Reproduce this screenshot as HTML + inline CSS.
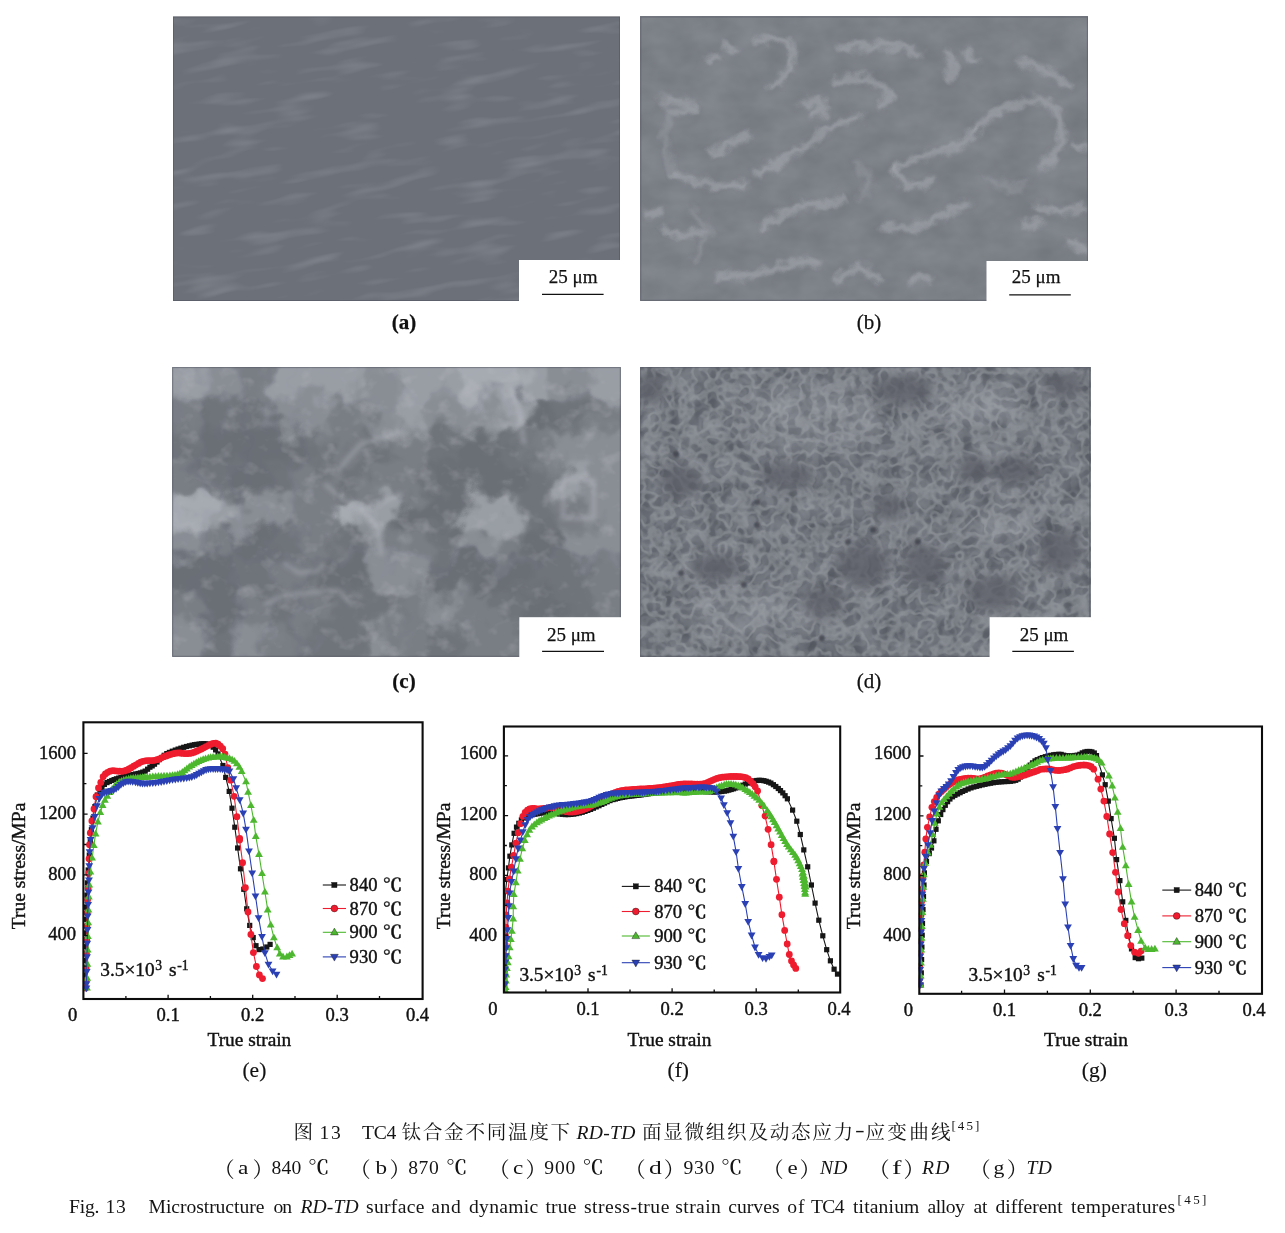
<!DOCTYPE html>
<html lang="zh"><head><meta charset="utf-8"><title>图 13</title>
<style>
html,body{margin:0;padding:0;background:#fff;}
body{width:1285px;height:1233px;position:relative;overflow:hidden;font-family:"Liberation Serif","Noto Serif CJK SC",serif;color:#111;}
svg{position:absolute;left:0;top:0;}
svg text{font-family:"Liberation Serif","Noto Serif CJK SC",serif;}
.dc{font-family:"Liberation Serif","Noto Serif CJK SC",serif;font-weight:600;}
.fp{font-family:"Liberation Serif","Noto Serif CJK SC",serif;}
</style></head><body>
<svg width="1285" height="1233" viewBox="0 0 1285 1233">
<defs>
<filter id="nA" x="0" y="0" width="100%" height="100%" color-interpolation-filters="sRGB"><feTurbulence type="fractalNoise" baseFrequency="0.018 0.09" numOctaves="2" seed="3"/><feColorMatrix values="0 0 0 0 0.584  0 0 0 0 0.604  0 0 0 0 0.635  1.2 0 0 0 -0.636"/></filter>
<filter id="nB" x="0" y="0" width="100%" height="100%" color-interpolation-filters="sRGB"><feTurbulence type="fractalNoise" baseFrequency="0.03 0.045" numOctaves="3" seed="8"/><feColorMatrix values="0.08 0 0 0 0.446  0.08 0 0 0 0.462  0.08 0 0 0 0.489  0 0 0 0 1"/></filter>
<filter id="tC" x="0" y="0" width="100%" height="100%" color-interpolation-filters="sRGB"><feTurbulence type="fractalNoise" baseFrequency="0.05 0.06" numOctaves="3" seed="21"/><feColorMatrix values="0 0 0 0 0.761  0 0 0 0 0.773  0 0 0 0 0.792  0.9 0 0 0 -0.495"/></filter>
<filter id="nD" x="0" y="0" width="100%" height="100%" color-interpolation-filters="sRGB"><feTurbulence type="fractalNoise" baseFrequency="0.05 0.05" numOctaves="2" seed="5"/><feColorMatrix values="0.2 0 0 0 0.296  0.2 0 0 0 0.312  0.2 0 0 0 0.343  0 0 0 0 1"/></filter>
<filter id="netD" x="0" y="0" width="100%" height="100%" color-interpolation-filters="sRGB"><feTurbulence type="fractalNoise" baseFrequency="0.075 0.075" numOctaves="2" seed="11"/><feColorMatrix values="0 0 0 0 0.702  0 0 0 0 0.718  0 0 0 0 0.737  1 0 0 0 0"/><feComponentTransfer><feFuncA type="table" tableValues="0.000 0.000 0.000 0.000 0.000 0.000 0.000 0.048 0.224 0.320 0.320 0.224 0.048 0.000 0.000 0.000 0.000 0.000 0.000 0.000 0.000"/></feComponentTransfer></filter>
<filter id="netD2" x="0" y="0" width="100%" height="100%" color-interpolation-filters="sRGB"><feTurbulence type="fractalNoise" baseFrequency="0.11 0.11" numOctaves="1" seed="7"/><feColorMatrix values="0 0 0 0 0.663  0 0 0 0 0.678  0 0 0 0 0.702  1 0 0 0 0"/><feComponentTransfer><feFuncA type="table" tableValues="0.000 0.000 0.000 0.000 0.000 0.000 0.000 0.027 0.126 0.180 0.180 0.126 0.027 0.000 0.000 0.000 0.000 0.000 0.000 0.000 0.000"/></feComponentTransfer></filter>
<filter id="wobC" x="-10%" y="-10%" width="120%" height="120%" color-interpolation-filters="sRGB"><feTurbulence type="fractalNoise" baseFrequency="0.035" numOctaves="3" seed="9" result="n"/><feGaussianBlur in="SourceGraphic" stdDeviation="5" result="b"/><feDisplacementMap in="b" in2="n" scale="55" xChannelSelector="R" yChannelSelector="G"/></filter>
<filter id="wob" x="-10%" y="-10%" width="120%" height="120%" color-interpolation-filters="sRGB"><feTurbulence type="fractalNoise" baseFrequency="0.08" numOctaves="2" seed="4" result="n"/><feGaussianBlur in="SourceGraphic" stdDeviation="2.2" result="b"/><feDisplacementMap in="b" in2="n" scale="14" xChannelSelector="R" yChannelSelector="G"/></filter>
<filter id="bl1" x="-20%" y="-20%" width="140%" height="140%"><feGaussianBlur stdDeviation="1"/></filter><filter id="bl2" x="-20%" y="-20%" width="140%" height="140%"><feGaussianBlur stdDeviation="2"/></filter><filter id="bl3" x="-20%" y="-20%" width="140%" height="140%"><feGaussianBlur stdDeviation="3"/></filter><filter id="bl5" x="-20%" y="-20%" width="140%" height="140%"><feGaussianBlur stdDeviation="5"/></filter><filter id="bl7" x="-20%" y="-20%" width="140%" height="140%"><feGaussianBlur stdDeviation="7"/></filter><filter id="bl9" x="-20%" y="-20%" width="140%" height="140%"><feGaussianBlur stdDeviation="8"/></filter><clipPath id="cpa"><rect x="173" y="16.5" width="447" height="284.5"/></clipPath><clipPath id="cpb"><rect x="640.3" y="16.5" width="447.6" height="284.3"/></clipPath><clipPath id="cpc"><rect x="172.2" y="367.1" width="448.6" height="289.7"/></clipPath><clipPath id="cpd"><rect x="640.2" y="367.1" width="450" height="289.7"/></clipPath></defs>
<rect x="173" y="16.5" width="447" height="284.5" fill="#6c7078"/><g clip-path="url(#cpa)"><rect x="113" y="-43.5" width="567" height="404.5" filter="url(#nA)" transform="rotate(-9 396 159)"/></g><rect x="173.5" y="17.0" width="446" height="283.5" fill="none" stroke="#50545e" stroke-opacity="0.55" stroke-width="1"/><rect x="519" y="260" width="102.0" height="42.0" fill="#fff"/>
<rect x="640.3" y="16.5" width="447.6" height="284.3" fill="#7c8087"/><rect x="640.3" y="16.5" width="447.6" height="284.3" filter="url(#nB)"/><g clip-path="url(#cpb)"><g filter="url(#wob)" fill="none" stroke="#a6aab0" stroke-opacity="0.6" stroke-width="7.5" stroke-linejoin="round" stroke-linecap="round"><path d="M759 40 L779 39 L793 47 L790 68 L779 82 L769 86"/><path d="M724 44 L734 51"/><path d="M706 61 L717 58"/><path d="M839 49 L867 46 L898 47 L919 53"/><path d="M835 82 L849 77 L867 79 L884 87 L891 98 L881 105"/><path d="M804 103 L821 100 L825 110 L811 114"/><path d="M710 154 L731 143 L748 135"/><path d="M759 173 L779 162 L800 150 L821 135 L842 121 L860 117"/><path d="M675 175 L699 183 L727 187 L745 183"/><path d="M668 100 L692 103 L696 110 L675 112"/><path d="M975 131 L989 117 L1010 107 L1030 100 L1048 101 L1058 114 L1062 135 L1055 155 L1041 169"/><path d="M895 169 L908 162 L926 155 L943 150 L964 145 L975 131"/><path d="M895 169 L901 182 L919 187 L933 180"/><path d="M884 225 L905 230 L929 222 L950 211 L968 204"/><path d="M762 229 L779 215 L797 206 L821 204 L842 201"/><path d="M664 229 L682 236 L703 232"/><path d="M647 215 L661 211"/><path d="M720 277 L752 274 L779 267 L804 262 L818 262"/><path d="M835 281 L849 271 L867 267 L877 281"/><path d="M1034 206 L1058 211 L1083 209"/><path d="M1024 225 L1041 222"/><path d="M947 54 L954 68 L947 79"/><path d="M968 51 L975 61"/><path d="M1020 61 L1041 68 L1058 79 L1069 86"/><path d="M1069 243 L1086 250"/><path d="M1076 145 L1086 147"/><path d="M912 281 L929 277"/></g><g filter="url(#wob)" fill="none" stroke="#a8acb2" stroke-opacity="0.3" stroke-width="7" stroke-linejoin="round" stroke-linecap="round"><path d="M661 96 L671 114 L664 135 L668 155 L675 175"/><path d="M692 211 L710 232 L696 260"/><path d="M989 180 L1010 190 L1024 183"/><path d="M856 162 L870 180 L863 197"/></g></g><rect x="640.8" y="17.0" width="446.6" height="283.3" fill="none" stroke="#50545e" stroke-opacity="0.55" stroke-width="1"/><rect x="986.5" y="261" width="102.4" height="40.8" fill="#fff"/>
<rect x="172.2" y="367.1" width="448.6" height="289.7" fill="#7b7f88"/><g clip-path="url(#cpc)"><g filter="url(#wobC)"><rect x="108.1" y="302.7" width="32.6" height="32.8" fill="#999da4"/><rect x="140.2" y="302.7" width="32.6" height="32.8" fill="#999da4"/><rect x="172.2" y="302.7" width="32.6" height="32.8" fill="#999da4"/><rect x="204.2" y="302.7" width="32.6" height="32.8" fill="#898d94"/><rect x="236.3" y="302.7" width="32.6" height="32.8" fill="#797d84"/><rect x="268.3" y="302.7" width="32.6" height="32.8" fill="#999da4"/><rect x="300.4" y="302.7" width="32.6" height="32.8" fill="#999da4"/><rect x="332.4" y="302.7" width="32.6" height="32.8" fill="#999da4"/><rect x="364.5" y="302.7" width="32.6" height="32.8" fill="#898d94"/><rect x="396.5" y="302.7" width="32.6" height="32.8" fill="#999da4"/><rect x="428.5" y="302.7" width="32.6" height="32.8" fill="#999da4"/><rect x="460.6" y="302.7" width="32.6" height="32.8" fill="#a6aab1"/><rect x="492.6" y="302.7" width="32.6" height="32.8" fill="#a6aab1"/><rect x="524.7" y="302.7" width="32.6" height="32.8" fill="#999da4"/><rect x="556.7" y="302.7" width="32.6" height="32.8" fill="#898d94"/><rect x="588.8" y="302.7" width="32.6" height="32.8" fill="#999da4"/><rect x="620.8" y="302.7" width="32.6" height="32.8" fill="#999da4"/><rect x="652.8" y="302.7" width="32.6" height="32.8" fill="#999da4"/><rect x="108.1" y="334.9" width="32.6" height="32.8" fill="#999da4"/><rect x="140.2" y="334.9" width="32.6" height="32.8" fill="#999da4"/><rect x="172.2" y="334.9" width="32.6" height="32.8" fill="#999da4"/><rect x="204.2" y="334.9" width="32.6" height="32.8" fill="#898d94"/><rect x="236.3" y="334.9" width="32.6" height="32.8" fill="#797d84"/><rect x="268.3" y="334.9" width="32.6" height="32.8" fill="#999da4"/><rect x="300.4" y="334.9" width="32.6" height="32.8" fill="#999da4"/><rect x="332.4" y="334.9" width="32.6" height="32.8" fill="#999da4"/><rect x="364.5" y="334.9" width="32.6" height="32.8" fill="#898d94"/><rect x="396.5" y="334.9" width="32.6" height="32.8" fill="#999da4"/><rect x="428.5" y="334.9" width="32.6" height="32.8" fill="#999da4"/><rect x="460.6" y="334.9" width="32.6" height="32.8" fill="#a6aab1"/><rect x="492.6" y="334.9" width="32.6" height="32.8" fill="#a6aab1"/><rect x="524.7" y="334.9" width="32.6" height="32.8" fill="#999da4"/><rect x="556.7" y="334.9" width="32.6" height="32.8" fill="#898d94"/><rect x="588.8" y="334.9" width="32.6" height="32.8" fill="#999da4"/><rect x="620.8" y="334.9" width="32.6" height="32.8" fill="#999da4"/><rect x="652.8" y="334.9" width="32.6" height="32.8" fill="#999da4"/><rect x="108.1" y="367.1" width="32.6" height="32.8" fill="#999da4"/><rect x="140.2" y="367.1" width="32.6" height="32.8" fill="#999da4"/><rect x="172.2" y="367.1" width="32.6" height="32.8" fill="#999da4"/><rect x="204.2" y="367.1" width="32.6" height="32.8" fill="#898d94"/><rect x="236.3" y="367.1" width="32.6" height="32.8" fill="#797d84"/><rect x="268.3" y="367.1" width="32.6" height="32.8" fill="#999da4"/><rect x="300.4" y="367.1" width="32.6" height="32.8" fill="#999da4"/><rect x="332.4" y="367.1" width="32.6" height="32.8" fill="#999da4"/><rect x="364.5" y="367.1" width="32.6" height="32.8" fill="#898d94"/><rect x="396.5" y="367.1" width="32.6" height="32.8" fill="#999da4"/><rect x="428.5" y="367.1" width="32.6" height="32.8" fill="#999da4"/><rect x="460.6" y="367.1" width="32.6" height="32.8" fill="#a6aab1"/><rect x="492.6" y="367.1" width="32.6" height="32.8" fill="#a6aab1"/><rect x="524.7" y="367.1" width="32.6" height="32.8" fill="#999da4"/><rect x="556.7" y="367.1" width="32.6" height="32.8" fill="#898d94"/><rect x="588.8" y="367.1" width="32.6" height="32.8" fill="#999da4"/><rect x="620.8" y="367.1" width="32.6" height="32.8" fill="#999da4"/><rect x="652.8" y="367.1" width="32.6" height="32.8" fill="#999da4"/><rect x="108.1" y="399.3" width="32.6" height="32.8" fill="#797d84"/><rect x="140.2" y="399.3" width="32.6" height="32.8" fill="#797d84"/><rect x="172.2" y="399.3" width="32.6" height="32.8" fill="#797d84"/><rect x="204.2" y="399.3" width="32.6" height="32.8" fill="#6f737a"/><rect x="236.3" y="399.3" width="32.6" height="32.8" fill="#6f737a"/><rect x="268.3" y="399.3" width="32.6" height="32.8" fill="#898d94"/><rect x="300.4" y="399.3" width="32.6" height="32.8" fill="#898d94"/><rect x="332.4" y="399.3" width="32.6" height="32.8" fill="#797d84"/><rect x="364.5" y="399.3" width="32.6" height="32.8" fill="#898d94"/><rect x="396.5" y="399.3" width="32.6" height="32.8" fill="#999da4"/><rect x="428.5" y="399.3" width="32.6" height="32.8" fill="#898d94"/><rect x="460.6" y="399.3" width="32.6" height="32.8" fill="#898d94"/><rect x="492.6" y="399.3" width="32.6" height="32.8" fill="#999da4"/><rect x="524.7" y="399.3" width="32.6" height="32.8" fill="#6a6e75"/><rect x="556.7" y="399.3" width="32.6" height="32.8" fill="#6f737a"/><rect x="588.8" y="399.3" width="32.6" height="32.8" fill="#797d84"/><rect x="620.8" y="399.3" width="32.6" height="32.8" fill="#797d84"/><rect x="652.8" y="399.3" width="32.6" height="32.8" fill="#797d84"/><rect x="108.1" y="431.5" width="32.6" height="32.8" fill="#6f737a"/><rect x="140.2" y="431.5" width="32.6" height="32.8" fill="#6f737a"/><rect x="172.2" y="431.5" width="32.6" height="32.8" fill="#6f737a"/><rect x="204.2" y="431.5" width="32.6" height="32.8" fill="#6a6e75"/><rect x="236.3" y="431.5" width="32.6" height="32.8" fill="#6a6e75"/><rect x="268.3" y="431.5" width="32.6" height="32.8" fill="#6a6e75"/><rect x="300.4" y="431.5" width="32.6" height="32.8" fill="#6f737a"/><rect x="332.4" y="431.5" width="32.6" height="32.8" fill="#797d84"/><rect x="364.5" y="431.5" width="32.6" height="32.8" fill="#6f737a"/><rect x="396.5" y="431.5" width="32.6" height="32.8" fill="#797d84"/><rect x="428.5" y="431.5" width="32.6" height="32.8" fill="#6f737a"/><rect x="460.6" y="431.5" width="32.6" height="32.8" fill="#6a6e75"/><rect x="492.6" y="431.5" width="32.6" height="32.8" fill="#6f737a"/><rect x="524.7" y="431.5" width="32.6" height="32.8" fill="#797d84"/><rect x="556.7" y="431.5" width="32.6" height="32.8" fill="#898d94"/><rect x="588.8" y="431.5" width="32.6" height="32.8" fill="#898d94"/><rect x="620.8" y="431.5" width="32.6" height="32.8" fill="#898d94"/><rect x="652.8" y="431.5" width="32.6" height="32.8" fill="#898d94"/><rect x="108.1" y="463.7" width="32.6" height="32.8" fill="#797d84"/><rect x="140.2" y="463.7" width="32.6" height="32.8" fill="#797d84"/><rect x="172.2" y="463.7" width="32.6" height="32.8" fill="#797d84"/><rect x="204.2" y="463.7" width="32.6" height="32.8" fill="#6f737a"/><rect x="236.3" y="463.7" width="32.6" height="32.8" fill="#6a6e75"/><rect x="268.3" y="463.7" width="32.6" height="32.8" fill="#6f737a"/><rect x="300.4" y="463.7" width="32.6" height="32.8" fill="#797d84"/><rect x="332.4" y="463.7" width="32.6" height="32.8" fill="#6f737a"/><rect x="364.5" y="463.7" width="32.6" height="32.8" fill="#797d84"/><rect x="396.5" y="463.7" width="32.6" height="32.8" fill="#797d84"/><rect x="428.5" y="463.7" width="32.6" height="32.8" fill="#6a6e75"/><rect x="460.6" y="463.7" width="32.6" height="32.8" fill="#6a6e75"/><rect x="492.6" y="463.7" width="32.6" height="32.8" fill="#6a6e75"/><rect x="524.7" y="463.7" width="32.6" height="32.8" fill="#6f737a"/><rect x="556.7" y="463.7" width="32.6" height="32.8" fill="#999da4"/><rect x="588.8" y="463.7" width="32.6" height="32.8" fill="#898d94"/><rect x="620.8" y="463.7" width="32.6" height="32.8" fill="#898d94"/><rect x="652.8" y="463.7" width="32.6" height="32.8" fill="#898d94"/><rect x="108.1" y="495.9" width="32.6" height="32.8" fill="#a6aab1"/><rect x="140.2" y="495.9" width="32.6" height="32.8" fill="#a6aab1"/><rect x="172.2" y="495.9" width="32.6" height="32.8" fill="#a6aab1"/><rect x="204.2" y="495.9" width="32.6" height="32.8" fill="#999da4"/><rect x="236.3" y="495.9" width="32.6" height="32.8" fill="#898d94"/><rect x="268.3" y="495.9" width="32.6" height="32.8" fill="#898d94"/><rect x="300.4" y="495.9" width="32.6" height="32.8" fill="#797d84"/><rect x="332.4" y="495.9" width="32.6" height="32.8" fill="#a6aab1"/><rect x="364.5" y="495.9" width="32.6" height="32.8" fill="#999da4"/><rect x="396.5" y="495.9" width="32.6" height="32.8" fill="#6a6e75"/><rect x="428.5" y="495.9" width="32.6" height="32.8" fill="#6a6e75"/><rect x="460.6" y="495.9" width="32.6" height="32.8" fill="#999da4"/><rect x="492.6" y="495.9" width="32.6" height="32.8" fill="#999da4"/><rect x="524.7" y="495.9" width="32.6" height="32.8" fill="#6f737a"/><rect x="556.7" y="495.9" width="32.6" height="32.8" fill="#797d84"/><rect x="588.8" y="495.9" width="32.6" height="32.8" fill="#898d94"/><rect x="620.8" y="495.9" width="32.6" height="32.8" fill="#898d94"/><rect x="652.8" y="495.9" width="32.6" height="32.8" fill="#898d94"/><rect x="108.1" y="528.0" width="32.6" height="32.8" fill="#898d94"/><rect x="140.2" y="528.0" width="32.6" height="32.8" fill="#898d94"/><rect x="172.2" y="528.0" width="32.6" height="32.8" fill="#898d94"/><rect x="204.2" y="528.0" width="32.6" height="32.8" fill="#797d84"/><rect x="236.3" y="528.0" width="32.6" height="32.8" fill="#6a6e75"/><rect x="268.3" y="528.0" width="32.6" height="32.8" fill="#6f737a"/><rect x="300.4" y="528.0" width="32.6" height="32.8" fill="#797d84"/><rect x="332.4" y="528.0" width="32.6" height="32.8" fill="#6f737a"/><rect x="364.5" y="528.0" width="32.6" height="32.8" fill="#898d94"/><rect x="396.5" y="528.0" width="32.6" height="32.8" fill="#797d84"/><rect x="428.5" y="528.0" width="32.6" height="32.8" fill="#6f737a"/><rect x="460.6" y="528.0" width="32.6" height="32.8" fill="#898d94"/><rect x="492.6" y="528.0" width="32.6" height="32.8" fill="#797d84"/><rect x="524.7" y="528.0" width="32.6" height="32.8" fill="#6a6e75"/><rect x="556.7" y="528.0" width="32.6" height="32.8" fill="#898d94"/><rect x="588.8" y="528.0" width="32.6" height="32.8" fill="#898d94"/><rect x="620.8" y="528.0" width="32.6" height="32.8" fill="#898d94"/><rect x="652.8" y="528.0" width="32.6" height="32.8" fill="#898d94"/><rect x="108.1" y="560.2" width="32.6" height="32.8" fill="#6a6e75"/><rect x="140.2" y="560.2" width="32.6" height="32.8" fill="#6a6e75"/><rect x="172.2" y="560.2" width="32.6" height="32.8" fill="#6a6e75"/><rect x="204.2" y="560.2" width="32.6" height="32.8" fill="#6a6e75"/><rect x="236.3" y="560.2" width="32.6" height="32.8" fill="#6f737a"/><rect x="268.3" y="560.2" width="32.6" height="32.8" fill="#797d84"/><rect x="300.4" y="560.2" width="32.6" height="32.8" fill="#6f737a"/><rect x="332.4" y="560.2" width="32.6" height="32.8" fill="#6a6e75"/><rect x="364.5" y="560.2" width="32.6" height="32.8" fill="#898d94"/><rect x="396.5" y="560.2" width="32.6" height="32.8" fill="#898d94"/><rect x="428.5" y="560.2" width="32.6" height="32.8" fill="#6a6e75"/><rect x="460.6" y="560.2" width="32.6" height="32.8" fill="#6a6e75"/><rect x="492.6" y="560.2" width="32.6" height="32.8" fill="#6a6e75"/><rect x="524.7" y="560.2" width="32.6" height="32.8" fill="#6f737a"/><rect x="556.7" y="560.2" width="32.6" height="32.8" fill="#6f737a"/><rect x="588.8" y="560.2" width="32.6" height="32.8" fill="#797d84"/><rect x="620.8" y="560.2" width="32.6" height="32.8" fill="#797d84"/><rect x="652.8" y="560.2" width="32.6" height="32.8" fill="#797d84"/><rect x="108.1" y="592.4" width="32.6" height="32.8" fill="#797d84"/><rect x="140.2" y="592.4" width="32.6" height="32.8" fill="#797d84"/><rect x="172.2" y="592.4" width="32.6" height="32.8" fill="#797d84"/><rect x="204.2" y="592.4" width="32.6" height="32.8" fill="#6a6e75"/><rect x="236.3" y="592.4" width="32.6" height="32.8" fill="#797d84"/><rect x="268.3" y="592.4" width="32.6" height="32.8" fill="#6f737a"/><rect x="300.4" y="592.4" width="32.6" height="32.8" fill="#797d84"/><rect x="332.4" y="592.4" width="32.6" height="32.8" fill="#6f737a"/><rect x="364.5" y="592.4" width="32.6" height="32.8" fill="#6f737a"/><rect x="396.5" y="592.4" width="32.6" height="32.8" fill="#797d84"/><rect x="428.5" y="592.4" width="32.6" height="32.8" fill="#898d94"/><rect x="460.6" y="592.4" width="32.6" height="32.8" fill="#797d84"/><rect x="492.6" y="592.4" width="32.6" height="32.8" fill="#6f737a"/><rect x="524.7" y="592.4" width="32.6" height="32.8" fill="#6a6e75"/><rect x="556.7" y="592.4" width="32.6" height="32.8" fill="#6f737a"/><rect x="588.8" y="592.4" width="32.6" height="32.8" fill="#797d84"/><rect x="620.8" y="592.4" width="32.6" height="32.8" fill="#797d84"/><rect x="652.8" y="592.4" width="32.6" height="32.8" fill="#797d84"/><rect x="108.1" y="624.6" width="32.6" height="32.8" fill="#898d94"/><rect x="140.2" y="624.6" width="32.6" height="32.8" fill="#898d94"/><rect x="172.2" y="624.6" width="32.6" height="32.8" fill="#898d94"/><rect x="204.2" y="624.6" width="32.6" height="32.8" fill="#6f737a"/><rect x="236.3" y="624.6" width="32.6" height="32.8" fill="#898d94"/><rect x="268.3" y="624.6" width="32.6" height="32.8" fill="#797d84"/><rect x="300.4" y="624.6" width="32.6" height="32.8" fill="#6f737a"/><rect x="332.4" y="624.6" width="32.6" height="32.8" fill="#6f737a"/><rect x="364.5" y="624.6" width="32.6" height="32.8" fill="#898d94"/><rect x="396.5" y="624.6" width="32.6" height="32.8" fill="#797d84"/><rect x="428.5" y="624.6" width="32.6" height="32.8" fill="#6f737a"/><rect x="460.6" y="624.6" width="32.6" height="32.8" fill="#797d84"/><rect x="492.6" y="624.6" width="32.6" height="32.8" fill="#797d84"/><rect x="524.7" y="624.6" width="32.6" height="32.8" fill="#797d84"/><rect x="556.7" y="624.6" width="32.6" height="32.8" fill="#797d84"/><rect x="588.8" y="624.6" width="32.6" height="32.8" fill="#797d84"/><rect x="620.8" y="624.6" width="32.6" height="32.8" fill="#797d84"/><rect x="652.8" y="624.6" width="32.6" height="32.8" fill="#797d84"/><rect x="108.1" y="656.8" width="32.6" height="32.8" fill="#898d94"/><rect x="140.2" y="656.8" width="32.6" height="32.8" fill="#898d94"/><rect x="172.2" y="656.8" width="32.6" height="32.8" fill="#898d94"/><rect x="204.2" y="656.8" width="32.6" height="32.8" fill="#6f737a"/><rect x="236.3" y="656.8" width="32.6" height="32.8" fill="#898d94"/><rect x="268.3" y="656.8" width="32.6" height="32.8" fill="#797d84"/><rect x="300.4" y="656.8" width="32.6" height="32.8" fill="#6f737a"/><rect x="332.4" y="656.8" width="32.6" height="32.8" fill="#6f737a"/><rect x="364.5" y="656.8" width="32.6" height="32.8" fill="#898d94"/><rect x="396.5" y="656.8" width="32.6" height="32.8" fill="#797d84"/><rect x="428.5" y="656.8" width="32.6" height="32.8" fill="#6f737a"/><rect x="460.6" y="656.8" width="32.6" height="32.8" fill="#797d84"/><rect x="492.6" y="656.8" width="32.6" height="32.8" fill="#797d84"/><rect x="524.7" y="656.8" width="32.6" height="32.8" fill="#797d84"/><rect x="556.7" y="656.8" width="32.6" height="32.8" fill="#797d84"/><rect x="588.8" y="656.8" width="32.6" height="32.8" fill="#797d84"/><rect x="620.8" y="656.8" width="32.6" height="32.8" fill="#797d84"/><rect x="652.8" y="656.8" width="32.6" height="32.8" fill="#797d84"/><rect x="108.1" y="689.0" width="32.6" height="32.8" fill="#898d94"/><rect x="140.2" y="689.0" width="32.6" height="32.8" fill="#898d94"/><rect x="172.2" y="689.0" width="32.6" height="32.8" fill="#898d94"/><rect x="204.2" y="689.0" width="32.6" height="32.8" fill="#6f737a"/><rect x="236.3" y="689.0" width="32.6" height="32.8" fill="#898d94"/><rect x="268.3" y="689.0" width="32.6" height="32.8" fill="#797d84"/><rect x="300.4" y="689.0" width="32.6" height="32.8" fill="#6f737a"/><rect x="332.4" y="689.0" width="32.6" height="32.8" fill="#6f737a"/><rect x="364.5" y="689.0" width="32.6" height="32.8" fill="#898d94"/><rect x="396.5" y="689.0" width="32.6" height="32.8" fill="#797d84"/><rect x="428.5" y="689.0" width="32.6" height="32.8" fill="#6f737a"/><rect x="460.6" y="689.0" width="32.6" height="32.8" fill="#797d84"/><rect x="492.6" y="689.0" width="32.6" height="32.8" fill="#797d84"/><rect x="524.7" y="689.0" width="32.6" height="32.8" fill="#797d84"/><rect x="556.7" y="689.0" width="32.6" height="32.8" fill="#797d84"/><rect x="588.8" y="689.0" width="32.6" height="32.8" fill="#797d84"/><rect x="620.8" y="689.0" width="32.6" height="32.8" fill="#797d84"/><rect x="652.8" y="689.0" width="32.6" height="32.8" fill="#797d84"/></g><rect x="172.2" y="367.1" width="448.6" height="289.7" filter="url(#tC)"/><g filter="url(#bl2)" fill="none" stroke="#c8cbd0" stroke-opacity="0.3" stroke-width="4.5" stroke-linejoin="round" stroke-linecap="round"><path d="M338 470 L361 444 L400 432"/><path d="M285 564 L299 573 L318 571 L323 564"/><path d="M563 480 L594 480 L594 518 L563 518 L563 480"/><path d="M266 604 L285 595 L338 590 L352 604"/><path d="M326 485 L342 499 L361 509 L385 501 L400 494"/><path d="M361 509 L378 528 L381 554"/><path d="M512 389 L519 413 L524 442"/></g></g><rect x="172.7" y="367.6" width="447.6" height="288.7" fill="none" stroke="#50545e" stroke-opacity="0.55" stroke-width="1"/><rect x="519.3" y="617.2" width="102.5" height="40.6" fill="#fff"/>
<rect x="640.2" y="367.1" width="450" height="289.7" fill="#656971"/><rect x="640.2" y="367.1" width="450" height="289.7" filter="url(#nD)"/><rect x="640.2" y="367.1" width="450" height="289.7" filter="url(#netD)"/><rect x="640.2" y="367.1" width="450" height="289.7" filter="url(#netD2)"/><g clip-path="url(#cpd)"><g filter="url(#bl5)" fill="#585c64" fill-opacity="0.7"><ellipse cx="716" cy="568" rx="23" ry="14"/><ellipse cx="681" cy="482" rx="21" ry="16"/><ellipse cx="863" cy="565" rx="26" ry="23"/><ellipse cx="924" cy="565" rx="21" ry="21"/><ellipse cx="1015" cy="471" rx="21" ry="15"/><ellipse cx="974" cy="469" rx="16" ry="13"/><ellipse cx="787" cy="476" rx="26" ry="13"/><ellipse cx="888" cy="507" rx="16" ry="13"/><ellipse cx="650" cy="388" rx="14" ry="16"/><ellipse cx="1060" cy="552" rx="21" ry="21"/><ellipse cx="1065" cy="385" rx="18" ry="13"/><ellipse cx="903" cy="390" rx="30" ry="15"/><ellipse cx="994" cy="593" rx="25" ry="18"/><ellipse cx="822" cy="603" rx="20" ry="15"/></g><g filter="url(#bl7)" fill="#b9bcc2" fill-opacity="0.18"><ellipse cx="807" cy="416" rx="66" ry="35"/><ellipse cx="974" cy="406" rx="46" ry="25"/><ellipse cx="746" cy="613" rx="61" ry="20"/><ellipse cx="1004" cy="522" rx="30" ry="20"/></g><g filter="url(#bl1)" fill="#3a3e47" fill-opacity="0.75"><circle cx="757" cy="502" r="3"/><circle cx="757" cy="525" r="3"/><circle cx="848" cy="542" r="3"/><circle cx="918" cy="542" r="3"/><circle cx="744" cy="585" r="3"/><circle cx="681" cy="573" r="3"/><circle cx="676" cy="454" r="3"/><circle cx="873" cy="530" r="3"/><circle cx="822" cy="638" r="3"/></g></g><rect x="640.7" y="367.6" width="449" height="288.7" fill="none" stroke="#50545e" stroke-opacity="0.55" stroke-width="1"/><rect x="989.6" y="617.2" width="101.6" height="40.6" fill="#fff"/>
<g fill="#111" stroke="#111" stroke-width="0.25"><path d="M542 294.4H603.6" stroke="#111" stroke-width="1.3"/><text x="573.2" y="283.3" text-anchor="middle" font-size="19">25 μm</text><path d="M1009.2 294.9H1070.8" stroke="#111" stroke-width="1.3"/><text x="1036.2" y="283.3" text-anchor="middle" font-size="19">25 μm</text><path d="M542.1 651.3H604" stroke="#111" stroke-width="1.3"/><text x="571.3" y="640.7" text-anchor="middle" font-size="19">25 μm</text><path d="M1012.3 651.3H1073.9" stroke="#111" stroke-width="1.3"/><text x="1044.0" y="640.7" text-anchor="middle" font-size="19">25 μm</text><text x="404" y="329" text-anchor="middle" font-size="21" font-weight="bold">(a)</text><text x="868.9" y="329" text-anchor="middle" font-size="21">(b)</text><text x="404" y="688" text-anchor="middle" font-size="21" font-weight="bold">(c)</text><text x="868.9" y="688" text-anchor="middle" font-size="21">(d)</text>
</g>
<clipPath id="cce"><rect x="82.9" y="722.3" width="340.2" height="276.7"/></clipPath><g clip-path="url(#cce)"><g fill="#161616" stroke="none"><path d="M85.0 988.0 L85.2 975.0 L85.5 960.5 L85.8 946.7 L86.0 933.0 L86.3 919.3 L86.6 907.2 L86.9 895.1 L87.4 882.9 L88.2 870.0 L89.3 855.1 L90.3 841.7 L91.4 829.7 L93.0 818.1 L94.9 806.6 L97.3 795.0 L99.8 790.2 L102.0 787.3 L104.4 784.4 L107.0 782.6 L109.4 781.5 L111.8 780.5 L114.1 779.6 L116.4 778.8 L118.7 778.1 L121.0 777.4 L123.7 776.7 L126.0 776.1 L128.4 775.5 L130.8 775.0 L133.2 774.5 L135.5 774.0 L138.1 773.5 L140.4 772.9 L142.8 772.1 L145.2 771.1 L147.6 769.2 L149.9 767.2 L152.2 765.9 L154.5 764.2 L157.0 762.0 L159.4 759.6 L161.7 757.5 L164.2 755.3 L166.8 753.6 L169.4 752.4 L172.3 751.2 L175.3 750.1 L178.1 749.1 L180.9 748.2 L183.7 747.3 L186.5 746.5 L189.4 745.8 L192.1 745.2 L194.5 744.7 L196.8 744.4 L199.1 744.1 L201.5 743.8 L203.8 743.7 L206.1 743.8 L208.6 744.5 L210.9 745.5 L213.2 747.2 L215.6 749.9 L218.0 753.9 L222.9 765.5 L225.7 777.4 L229.2 791.4 L232.0 808.2 L234.8 827.2 L237.6 848.0 L240.5 868.8 L243.8 889.3 L246.7 908.8 L249.7 925.4 L253.2 937.6 L256.0 945.7 L259.0 949.6 L262.9 949.0 L266.8 947.0 L270.1 944.4" fill="none" stroke="#161616" stroke-width="1.1"/><rect x="82.4" y="985.4" width="5.2" height="5.2"/><rect x="82.6" y="972.4" width="5.2" height="5.2"/><rect x="82.9" y="957.9" width="5.2" height="5.2"/><rect x="83.2" y="944.1" width="5.2" height="5.2"/><rect x="83.4" y="930.4" width="5.2" height="5.2"/><rect x="83.7" y="916.7" width="5.2" height="5.2"/><rect x="84.0" y="904.6" width="5.2" height="5.2"/><rect x="84.3" y="892.5" width="5.2" height="5.2"/><rect x="84.8" y="880.3" width="5.2" height="5.2"/><rect x="85.6" y="867.4" width="5.2" height="5.2"/><rect x="86.7" y="852.5" width="5.2" height="5.2"/><rect x="87.7" y="839.1" width="5.2" height="5.2"/><rect x="88.8" y="827.1" width="5.2" height="5.2"/><rect x="90.4" y="815.5" width="5.2" height="5.2"/><rect x="92.3" y="804.0" width="5.2" height="5.2"/><rect x="94.7" y="792.4" width="5.2" height="5.2"/><rect x="97.2" y="787.6" width="5.2" height="5.2"/><rect x="99.4" y="784.7" width="5.2" height="5.2"/><rect x="101.8" y="781.8" width="5.2" height="5.2"/><rect x="104.4" y="780.0" width="5.2" height="5.2"/><rect x="106.8" y="778.9" width="5.2" height="5.2"/><rect x="109.2" y="777.9" width="5.2" height="5.2"/><rect x="111.5" y="777.0" width="5.2" height="5.2"/><rect x="113.8" y="776.2" width="5.2" height="5.2"/><rect x="116.1" y="775.5" width="5.2" height="5.2"/><rect x="118.4" y="774.8" width="5.2" height="5.2"/><rect x="121.1" y="774.1" width="5.2" height="5.2"/><rect x="123.4" y="773.5" width="5.2" height="5.2"/><rect x="125.8" y="772.9" width="5.2" height="5.2"/><rect x="128.2" y="772.4" width="5.2" height="5.2"/><rect x="130.6" y="771.9" width="5.2" height="5.2"/><rect x="132.9" y="771.4" width="5.2" height="5.2"/><rect x="135.5" y="770.9" width="5.2" height="5.2"/><rect x="137.8" y="770.3" width="5.2" height="5.2"/><rect x="140.2" y="769.5" width="5.2" height="5.2"/><rect x="142.6" y="768.5" width="5.2" height="5.2"/><rect x="145.0" y="766.6" width="5.2" height="5.2"/><rect x="147.3" y="764.6" width="5.2" height="5.2"/><rect x="149.6" y="763.3" width="5.2" height="5.2"/><rect x="151.9" y="761.6" width="5.2" height="5.2"/><rect x="154.4" y="759.4" width="5.2" height="5.2"/><rect x="156.8" y="757.0" width="5.2" height="5.2"/><rect x="159.1" y="754.9" width="5.2" height="5.2"/><rect x="161.6" y="752.7" width="5.2" height="5.2"/><rect x="164.2" y="751.0" width="5.2" height="5.2"/><rect x="166.8" y="749.8" width="5.2" height="5.2"/><rect x="169.7" y="748.6" width="5.2" height="5.2"/><rect x="172.7" y="747.5" width="5.2" height="5.2"/><rect x="175.5" y="746.5" width="5.2" height="5.2"/><rect x="178.3" y="745.6" width="5.2" height="5.2"/><rect x="181.1" y="744.7" width="5.2" height="5.2"/><rect x="183.9" y="743.9" width="5.2" height="5.2"/><rect x="186.8" y="743.2" width="5.2" height="5.2"/><rect x="189.5" y="742.6" width="5.2" height="5.2"/><rect x="191.9" y="742.1" width="5.2" height="5.2"/><rect x="194.2" y="741.8" width="5.2" height="5.2"/><rect x="196.5" y="741.5" width="5.2" height="5.2"/><rect x="198.9" y="741.2" width="5.2" height="5.2"/><rect x="201.2" y="741.1" width="5.2" height="5.2"/><rect x="203.5" y="741.2" width="5.2" height="5.2"/><rect x="206.0" y="741.9" width="5.2" height="5.2"/><rect x="208.3" y="742.9" width="5.2" height="5.2"/><rect x="210.6" y="744.6" width="5.2" height="5.2"/><rect x="213.0" y="747.3" width="5.2" height="5.2"/><rect x="215.4" y="751.3" width="5.2" height="5.2"/><rect x="220.3" y="762.9" width="5.2" height="5.2"/><rect x="223.1" y="774.8" width="5.2" height="5.2"/><rect x="226.6" y="788.8" width="5.2" height="5.2"/><rect x="229.4" y="805.6" width="5.2" height="5.2"/><rect x="232.2" y="824.6" width="5.2" height="5.2"/><rect x="235.0" y="845.4" width="5.2" height="5.2"/><rect x="237.9" y="866.2" width="5.2" height="5.2"/><rect x="241.2" y="886.7" width="5.2" height="5.2"/><rect x="244.1" y="906.2" width="5.2" height="5.2"/><rect x="247.1" y="922.8" width="5.2" height="5.2"/><rect x="250.6" y="935.0" width="5.2" height="5.2"/><rect x="253.4" y="943.1" width="5.2" height="5.2"/><rect x="256.4" y="947.0" width="5.2" height="5.2"/><rect x="260.3" y="946.4" width="5.2" height="5.2"/><rect x="264.2" y="944.4" width="5.2" height="5.2"/><rect x="267.5" y="941.8" width="5.2" height="5.2"/></g>
<g fill="#ee1c2e" stroke="none"><path d="M85.8 988.0 L85.9 981.2 L86.2 967.9 L86.4 953.4 L86.7 939.9 L86.9 926.1 L87.2 913.0 L87.6 899.7 L88.1 888.0 L88.6 873.5 L89.0 858.8 L89.5 844.7 L90.3 832.9 L91.9 820.9 L94.0 809.0 L96.0 796.7 L98.5 787.9 L100.8 782.4 L103.1 776.7 L105.4 774.0 L107.7 772.3 L110.1 771.2 L112.7 770.7 L115.0 770.8 L117.4 771.1 L119.7 771.2 L122.0 771.3 L124.3 770.9 L126.6 770.2 L129.0 769.0 L131.3 767.7 L133.7 766.2 L136.0 764.8 L138.5 763.4 L140.7 762.1 L143.0 761.3 L145.4 760.8 L147.7 760.6 L150.0 760.6 L152.4 760.7 L154.7 760.3 L157.0 759.7 L159.4 758.9 L161.6 757.8 L164.0 756.7 L166.3 755.9 L168.7 755.0 L171.1 754.3 L173.4 753.7 L175.7 753.2 L178.1 752.9 L180.4 753.0 L182.7 753.4 L185.1 753.6 L187.4 753.6 L189.7 753.4 L192.1 752.9 L194.4 752.2 L196.7 751.2 L199.1 750.1 L201.5 749.0 L203.8 747.8 L206.1 746.6 L208.6 745.3 L210.9 744.2 L213.3 743.3 L215.8 743.2 L218.1 744.2 L220.4 746.1 L222.7 748.7 L225.0 754.1 L227.8 767.6 L230.6 780.2 L234.1 796.3 L236.9 816.7 L239.7 838.4 L239.6 840.0 L242.6 862.7 L245.4 887.7 L248.0 912.0 L250.9 934.4 L253.4 952.6 L256.4 966.5 L259.4 974.9 L262.5 978.6" fill="none" stroke="#ee1c2e" stroke-width="1.1"/><circle cx="85.8" cy="988.0" r="3.4"/><circle cx="85.9" cy="981.2" r="3.4"/><circle cx="86.2" cy="967.9" r="3.4"/><circle cx="86.4" cy="953.4" r="3.4"/><circle cx="86.7" cy="939.9" r="3.4"/><circle cx="86.9" cy="926.1" r="3.4"/><circle cx="87.2" cy="913.0" r="3.4"/><circle cx="87.6" cy="899.7" r="3.4"/><circle cx="88.1" cy="888.0" r="3.4"/><circle cx="88.6" cy="873.5" r="3.4"/><circle cx="89.0" cy="858.8" r="3.4"/><circle cx="89.5" cy="844.7" r="3.4"/><circle cx="90.3" cy="832.9" r="3.4"/><circle cx="91.9" cy="820.9" r="3.4"/><circle cx="94.0" cy="809.0" r="3.4"/><circle cx="96.0" cy="796.7" r="3.4"/><circle cx="98.5" cy="787.9" r="3.4"/><circle cx="100.8" cy="782.4" r="3.4"/><circle cx="103.1" cy="776.7" r="3.4"/><circle cx="105.4" cy="774.0" r="3.4"/><circle cx="107.7" cy="772.3" r="3.4"/><circle cx="110.1" cy="771.2" r="3.4"/><circle cx="112.7" cy="770.7" r="3.4"/><circle cx="115.0" cy="770.8" r="3.4"/><circle cx="117.4" cy="771.1" r="3.4"/><circle cx="119.7" cy="771.2" r="3.4"/><circle cx="122.0" cy="771.3" r="3.4"/><circle cx="124.3" cy="770.9" r="3.4"/><circle cx="126.6" cy="770.2" r="3.4"/><circle cx="129.0" cy="769.0" r="3.4"/><circle cx="131.3" cy="767.7" r="3.4"/><circle cx="133.7" cy="766.2" r="3.4"/><circle cx="136.0" cy="764.8" r="3.4"/><circle cx="138.5" cy="763.4" r="3.4"/><circle cx="140.7" cy="762.1" r="3.4"/><circle cx="143.0" cy="761.3" r="3.4"/><circle cx="145.4" cy="760.8" r="3.4"/><circle cx="147.7" cy="760.6" r="3.4"/><circle cx="150.0" cy="760.6" r="3.4"/><circle cx="152.4" cy="760.7" r="3.4"/><circle cx="154.7" cy="760.3" r="3.4"/><circle cx="157.0" cy="759.7" r="3.4"/><circle cx="159.4" cy="758.9" r="3.4"/><circle cx="161.6" cy="757.8" r="3.4"/><circle cx="164.0" cy="756.7" r="3.4"/><circle cx="166.3" cy="755.9" r="3.4"/><circle cx="168.7" cy="755.0" r="3.4"/><circle cx="171.1" cy="754.3" r="3.4"/><circle cx="173.4" cy="753.7" r="3.4"/><circle cx="175.7" cy="753.2" r="3.4"/><circle cx="178.1" cy="752.9" r="3.4"/><circle cx="180.4" cy="753.0" r="3.4"/><circle cx="182.7" cy="753.4" r="3.4"/><circle cx="185.1" cy="753.6" r="3.4"/><circle cx="187.4" cy="753.6" r="3.4"/><circle cx="189.7" cy="753.4" r="3.4"/><circle cx="192.1" cy="752.9" r="3.4"/><circle cx="194.4" cy="752.2" r="3.4"/><circle cx="196.7" cy="751.2" r="3.4"/><circle cx="199.1" cy="750.1" r="3.4"/><circle cx="201.5" cy="749.0" r="3.4"/><circle cx="203.8" cy="747.8" r="3.4"/><circle cx="206.1" cy="746.6" r="3.4"/><circle cx="208.6" cy="745.3" r="3.4"/><circle cx="210.9" cy="744.2" r="3.4"/><circle cx="213.3" cy="743.3" r="3.4"/><circle cx="215.8" cy="743.2" r="3.4"/><circle cx="218.1" cy="744.2" r="3.4"/><circle cx="220.4" cy="746.1" r="3.4"/><circle cx="222.7" cy="748.7" r="3.4"/><circle cx="225.0" cy="754.1" r="3.4"/><circle cx="227.8" cy="767.6" r="3.4"/><circle cx="230.6" cy="780.2" r="3.4"/><circle cx="234.1" cy="796.3" r="3.4"/><circle cx="236.9" cy="816.7" r="3.4"/><circle cx="239.7" cy="838.4" r="3.4"/><circle cx="239.6" cy="840.0" r="3.4"/><circle cx="242.6" cy="862.7" r="3.4"/><circle cx="245.4" cy="887.7" r="3.4"/><circle cx="248.0" cy="912.0" r="3.4"/><circle cx="250.9" cy="934.4" r="3.4"/><circle cx="253.4" cy="952.6" r="3.4"/><circle cx="256.4" cy="966.5" r="3.4"/><circle cx="259.4" cy="974.9" r="3.4"/><circle cx="262.5" cy="978.6" r="3.4"/></g>
<g fill="#4db82f" stroke="none"><path d="M87.0 988.0 L87.2 978.2 L87.4 964.2 L87.7 950.0 L87.9 936.4 L88.2 922.7 L88.5 910.0 L88.8 896.8 L89.3 884.9 L90.4 871.9 L92.1 858.0 L93.8 845.5 L95.6 833.8 L97.9 821.8 L100.3 812.5 L102.6 805.3 L104.9 800.2 L107.3 796.1 L109.7 792.4 L112.1 789.1 L114.5 786.4 L116.7 784.2 L119.2 782.3 L121.5 781.1 L123.8 780.2 L126.2 779.4 L128.6 778.9 L130.9 778.5 L133.2 778.3 L135.6 778.0 L137.9 777.9 L140.2 777.7 L142.5 777.5 L144.8 777.3 L147.2 777.2 L149.9 776.9 L152.8 776.7 L155.6 776.5 L158.4 776.3 L161.2 776.2 L164.0 776.0 L167.0 775.9 L169.9 775.7 L172.5 775.5 L175.0 775.1 L177.6 774.5 L179.9 773.6 L182.3 772.3 L184.6 770.7 L186.9 768.8 L189.3 766.9 L191.6 765.4 L193.9 764.0 L196.3 762.7 L198.6 761.5 L200.9 760.4 L203.2 759.5 L205.6 758.7 L208.3 758.0 L210.7 757.5 L213.1 757.1 L215.5 756.9 L217.8 756.7 L220.1 756.7 L222.5 756.9 L224.8 757.3 L227.1 757.9 L229.5 758.5 L232.1 759.6 L234.5 761.1 L236.9 763.6 L239.4 767.1 L241.7 771.5 L246.0 781.6 L248.1 792.1 L250.9 805.4 L253.7 820.2 L255.8 836.3 L259.0 854.3 L262.0 873.5 L264.9 891.9 L267.7 909.8 L270.7 925.0 L273.9 937.6 L277.2 947.7 L279.8 953.9 L283.0 956.8 L286.9 956.8 L289.5 955.5 L292.1 953.9" fill="none" stroke="#4db82f" stroke-width="1.1"/><path d="M83.1 990.6h7.8l-3.9 -6.8z"/><path d="M83.3 980.8h7.8l-3.9 -6.8z"/><path d="M83.5 966.8h7.8l-3.9 -6.8z"/><path d="M83.8 952.6h7.8l-3.9 -6.8z"/><path d="M84.0 939.0h7.8l-3.9 -6.8z"/><path d="M84.3 925.3h7.8l-3.9 -6.8z"/><path d="M84.6 912.6h7.8l-3.9 -6.8z"/><path d="M84.9 899.4h7.8l-3.9 -6.8z"/><path d="M85.4 887.5h7.8l-3.9 -6.8z"/><path d="M86.5 874.5h7.8l-3.9 -6.8z"/><path d="M88.2 860.6h7.8l-3.9 -6.8z"/><path d="M89.9 848.1h7.8l-3.9 -6.8z"/><path d="M91.7 836.4h7.8l-3.9 -6.8z"/><path d="M94.0 824.4h7.8l-3.9 -6.8z"/><path d="M96.4 815.1h7.8l-3.9 -6.8z"/><path d="M98.7 807.9h7.8l-3.9 -6.8z"/><path d="M101.0 802.8h7.8l-3.9 -6.8z"/><path d="M103.4 798.7h7.8l-3.9 -6.8z"/><path d="M105.8 795.0h7.8l-3.9 -6.8z"/><path d="M108.2 791.7h7.8l-3.9 -6.8z"/><path d="M110.6 789.0h7.8l-3.9 -6.8z"/><path d="M112.8 786.8h7.8l-3.9 -6.8z"/><path d="M115.3 784.9h7.8l-3.9 -6.8z"/><path d="M117.6 783.7h7.8l-3.9 -6.8z"/><path d="M119.9 782.8h7.8l-3.9 -6.8z"/><path d="M122.3 782.0h7.8l-3.9 -6.8z"/><path d="M124.7 781.5h7.8l-3.9 -6.8z"/><path d="M127.0 781.1h7.8l-3.9 -6.8z"/><path d="M129.3 780.9h7.8l-3.9 -6.8z"/><path d="M131.7 780.6h7.8l-3.9 -6.8z"/><path d="M134.0 780.5h7.8l-3.9 -6.8z"/><path d="M136.3 780.3h7.8l-3.9 -6.8z"/><path d="M138.6 780.1h7.8l-3.9 -6.8z"/><path d="M140.9 779.9h7.8l-3.9 -6.8z"/><path d="M143.3 779.8h7.8l-3.9 -6.8z"/><path d="M146.0 779.5h7.8l-3.9 -6.8z"/><path d="M148.9 779.3h7.8l-3.9 -6.8z"/><path d="M151.7 779.1h7.8l-3.9 -6.8z"/><path d="M154.5 778.9h7.8l-3.9 -6.8z"/><path d="M157.3 778.8h7.8l-3.9 -6.8z"/><path d="M160.1 778.6h7.8l-3.9 -6.8z"/><path d="M163.1 778.5h7.8l-3.9 -6.8z"/><path d="M166.0 778.3h7.8l-3.9 -6.8z"/><path d="M168.6 778.1h7.8l-3.9 -6.8z"/><path d="M171.1 777.7h7.8l-3.9 -6.8z"/><path d="M173.7 777.1h7.8l-3.9 -6.8z"/><path d="M176.0 776.2h7.8l-3.9 -6.8z"/><path d="M178.4 774.9h7.8l-3.9 -6.8z"/><path d="M180.7 773.3h7.8l-3.9 -6.8z"/><path d="M183.0 771.4h7.8l-3.9 -6.8z"/><path d="M185.4 769.5h7.8l-3.9 -6.8z"/><path d="M187.7 768.0h7.8l-3.9 -6.8z"/><path d="M190.0 766.6h7.8l-3.9 -6.8z"/><path d="M192.4 765.3h7.8l-3.9 -6.8z"/><path d="M194.7 764.1h7.8l-3.9 -6.8z"/><path d="M197.0 763.0h7.8l-3.9 -6.8z"/><path d="M199.3 762.1h7.8l-3.9 -6.8z"/><path d="M201.7 761.3h7.8l-3.9 -6.8z"/><path d="M204.4 760.6h7.8l-3.9 -6.8z"/><path d="M206.8 760.1h7.8l-3.9 -6.8z"/><path d="M209.2 759.7h7.8l-3.9 -6.8z"/><path d="M211.6 759.5h7.8l-3.9 -6.8z"/><path d="M213.9 759.3h7.8l-3.9 -6.8z"/><path d="M216.2 759.3h7.8l-3.9 -6.8z"/><path d="M218.6 759.5h7.8l-3.9 -6.8z"/><path d="M220.9 759.9h7.8l-3.9 -6.8z"/><path d="M223.2 760.5h7.8l-3.9 -6.8z"/><path d="M225.6 761.1h7.8l-3.9 -6.8z"/><path d="M228.2 762.2h7.8l-3.9 -6.8z"/><path d="M230.6 763.7h7.8l-3.9 -6.8z"/><path d="M233.0 766.2h7.8l-3.9 -6.8z"/><path d="M235.5 769.7h7.8l-3.9 -6.8z"/><path d="M237.8 774.1h7.8l-3.9 -6.8z"/><path d="M242.1 784.2h7.8l-3.9 -6.8z"/><path d="M244.2 794.7h7.8l-3.9 -6.8z"/><path d="M247.0 808.0h7.8l-3.9 -6.8z"/><path d="M249.8 822.8h7.8l-3.9 -6.8z"/><path d="M251.9 838.9h7.8l-3.9 -6.8z"/><path d="M255.1 856.9h7.8l-3.9 -6.8z"/><path d="M258.1 876.1h7.8l-3.9 -6.8z"/><path d="M261.0 894.5h7.8l-3.9 -6.8z"/><path d="M263.8 912.4h7.8l-3.9 -6.8z"/><path d="M266.8 927.6h7.8l-3.9 -6.8z"/><path d="M270.0 940.2h7.8l-3.9 -6.8z"/><path d="M273.3 950.3h7.8l-3.9 -6.8z"/><path d="M275.9 956.5h7.8l-3.9 -6.8z"/><path d="M279.1 959.4h7.8l-3.9 -6.8z"/><path d="M283.0 959.4h7.8l-3.9 -6.8z"/><path d="M285.6 958.1h7.8l-3.9 -6.8z"/><path d="M288.2 956.5h7.8l-3.9 -6.8z"/></g>
<g fill="#2a40b4" stroke="none"><path d="M86.4 988.0 L86.5 983.9 L86.7 971.5 L87.0 956.9 L87.2 943.3 L87.5 929.5 L87.7 916.1 L88.1 904.5 L88.5 892.2 L89.0 880.0 L89.3 865.8 L89.6 851.9 L90.6 839.7 L92.6 827.8 L94.7 816.5 L96.9 805.9 L99.3 798.6 L101.7 794.7 L104.1 792.7 L106.5 791.9 L108.9 791.2 L111.3 790.7 L113.6 790.0 L116.1 788.5 L118.5 786.7 L120.9 784.5 L123.3 783.0 L125.7 781.9 L128.1 781.3 L130.3 781.3 L132.7 781.6 L135.5 782.1 L137.8 782.6 L140.2 783.0 L142.5 783.3 L144.8 783.3 L147.2 783.3 L149.9 783.1 L152.8 782.8 L155.6 782.5 L158.4 782.1 L161.2 781.7 L164.0 781.2 L166.8 780.7 L169.6 780.1 L172.5 779.5 L175.3 779.2 L178.1 778.9 L180.9 778.6 L183.8 778.2 L186.7 777.9 L189.3 777.4 L191.8 776.8 L194.4 775.8 L196.7 774.7 L199.1 773.3 L201.4 772.0 L203.7 770.8 L206.1 769.7 L208.4 769.1 L210.7 768.8 L213.1 768.7 L215.4 768.7 L217.7 768.8 L220.2 768.8 L222.5 769.0 L224.8 769.2 L227.1 769.7 L229.4 771.0 L233.4 778.8 L236.2 787.9 L239.7 799.8 L243.2 813.2 L246.0 829.3 L249.0 851.0 L252.2 873.1 L255.5 896.0 L258.6 917.8 L262.0 936.6 L264.9 952.9 L268.5 964.3 L272.6 971.0 L276.5 974.3" fill="none" stroke="#2a40b4" stroke-width="1.1"/><path d="M82.5 985.4h7.8l-3.9 6.8z"/><path d="M82.6 981.3h7.8l-3.9 6.8z"/><path d="M82.8 968.9h7.8l-3.9 6.8z"/><path d="M83.1 954.3h7.8l-3.9 6.8z"/><path d="M83.3 940.7h7.8l-3.9 6.8z"/><path d="M83.6 926.9h7.8l-3.9 6.8z"/><path d="M83.8 913.5h7.8l-3.9 6.8z"/><path d="M84.2 901.9h7.8l-3.9 6.8z"/><path d="M84.6 889.6h7.8l-3.9 6.8z"/><path d="M85.1 877.4h7.8l-3.9 6.8z"/><path d="M85.4 863.2h7.8l-3.9 6.8z"/><path d="M85.7 849.3h7.8l-3.9 6.8z"/><path d="M86.7 837.1h7.8l-3.9 6.8z"/><path d="M88.7 825.2h7.8l-3.9 6.8z"/><path d="M90.8 813.9h7.8l-3.9 6.8z"/><path d="M93.0 803.3h7.8l-3.9 6.8z"/><path d="M95.4 796.0h7.8l-3.9 6.8z"/><path d="M97.8 792.1h7.8l-3.9 6.8z"/><path d="M100.2 790.1h7.8l-3.9 6.8z"/><path d="M102.6 789.3h7.8l-3.9 6.8z"/><path d="M105.0 788.6h7.8l-3.9 6.8z"/><path d="M107.4 788.1h7.8l-3.9 6.8z"/><path d="M109.7 787.4h7.8l-3.9 6.8z"/><path d="M112.2 785.9h7.8l-3.9 6.8z"/><path d="M114.6 784.1h7.8l-3.9 6.8z"/><path d="M117.0 781.9h7.8l-3.9 6.8z"/><path d="M119.4 780.4h7.8l-3.9 6.8z"/><path d="M121.8 779.3h7.8l-3.9 6.8z"/><path d="M124.2 778.7h7.8l-3.9 6.8z"/><path d="M126.4 778.7h7.8l-3.9 6.8z"/><path d="M128.8 779.0h7.8l-3.9 6.8z"/><path d="M131.6 779.5h7.8l-3.9 6.8z"/><path d="M133.9 780.0h7.8l-3.9 6.8z"/><path d="M136.3 780.4h7.8l-3.9 6.8z"/><path d="M138.6 780.7h7.8l-3.9 6.8z"/><path d="M140.9 780.7h7.8l-3.9 6.8z"/><path d="M143.3 780.7h7.8l-3.9 6.8z"/><path d="M146.0 780.5h7.8l-3.9 6.8z"/><path d="M148.9 780.2h7.8l-3.9 6.8z"/><path d="M151.7 779.9h7.8l-3.9 6.8z"/><path d="M154.5 779.5h7.8l-3.9 6.8z"/><path d="M157.3 779.1h7.8l-3.9 6.8z"/><path d="M160.1 778.6h7.8l-3.9 6.8z"/><path d="M162.9 778.1h7.8l-3.9 6.8z"/><path d="M165.7 777.5h7.8l-3.9 6.8z"/><path d="M168.6 776.9h7.8l-3.9 6.8z"/><path d="M171.4 776.6h7.8l-3.9 6.8z"/><path d="M174.2 776.3h7.8l-3.9 6.8z"/><path d="M177.0 776.0h7.8l-3.9 6.8z"/><path d="M179.9 775.6h7.8l-3.9 6.8z"/><path d="M182.8 775.3h7.8l-3.9 6.8z"/><path d="M185.4 774.8h7.8l-3.9 6.8z"/><path d="M187.9 774.2h7.8l-3.9 6.8z"/><path d="M190.5 773.2h7.8l-3.9 6.8z"/><path d="M192.8 772.1h7.8l-3.9 6.8z"/><path d="M195.2 770.7h7.8l-3.9 6.8z"/><path d="M197.5 769.4h7.8l-3.9 6.8z"/><path d="M199.8 768.2h7.8l-3.9 6.8z"/><path d="M202.2 767.1h7.8l-3.9 6.8z"/><path d="M204.5 766.5h7.8l-3.9 6.8z"/><path d="M206.8 766.2h7.8l-3.9 6.8z"/><path d="M209.2 766.1h7.8l-3.9 6.8z"/><path d="M211.5 766.1h7.8l-3.9 6.8z"/><path d="M213.8 766.2h7.8l-3.9 6.8z"/><path d="M216.3 766.2h7.8l-3.9 6.8z"/><path d="M218.6 766.4h7.8l-3.9 6.8z"/><path d="M220.9 766.6h7.8l-3.9 6.8z"/><path d="M223.2 767.1h7.8l-3.9 6.8z"/><path d="M225.5 768.4h7.8l-3.9 6.8z"/><path d="M229.5 776.2h7.8l-3.9 6.8z"/><path d="M232.3 785.3h7.8l-3.9 6.8z"/><path d="M235.8 797.2h7.8l-3.9 6.8z"/><path d="M239.3 810.6h7.8l-3.9 6.8z"/><path d="M242.1 826.7h7.8l-3.9 6.8z"/><path d="M245.1 848.4h7.8l-3.9 6.8z"/><path d="M248.3 870.5h7.8l-3.9 6.8z"/><path d="M251.6 893.4h7.8l-3.9 6.8z"/><path d="M254.7 915.2h7.8l-3.9 6.8z"/><path d="M258.1 934.0h7.8l-3.9 6.8z"/><path d="M261.0 950.3h7.8l-3.9 6.8z"/><path d="M264.6 961.7h7.8l-3.9 6.8z"/><path d="M268.7 968.4h7.8l-3.9 6.8z"/><path d="M272.6 971.7h7.8l-3.9 6.8z"/></g>
</g><rect x="83.4" y="722.3" width="339.2" height="276.7" fill="none" stroke="#0c0c0c" stroke-width="2.1"/>
<path d="M125.9 999.0v-3.0 M168.1 999.0v-4.2 M210.4 999.0v-3.0 M252.7 999.0v-4.2 M295.0 999.0v-3.0 M337.2 999.0v-4.2 M379.5 999.0v-3.0 M83.4 753.3h4.2 M83.4 783.7h3.0 M83.4 814.1h4.2 M83.4 844.5h3.0 M83.4 874.9h4.2 M83.4 905.3h3.0 M83.4 935.7h4.2 M83.4 966.1h3.0 " stroke="#0c0c0c" stroke-width="1.3" fill="none"/>
<g font-size="18.6" fill="#111" stroke="#111" stroke-width="0.4"><text x="76.1" y="758.7" text-anchor="end">1600</text><text x="76.1" y="819.2" text-anchor="end">1200</text><text x="76.1" y="879.8" text-anchor="end">800</text><text x="76.1" y="940.4" text-anchor="end">400</text><text x="72.6" y="1021.3" text-anchor="middle">0</text><text x="168.1" y="1021.3" text-anchor="middle">0.1</text><text x="252.7" y="1021.3" text-anchor="middle">0.2</text><text x="337.2" y="1021.3" text-anchor="middle">0.3</text><text x="417.5" y="1021.3" text-anchor="middle">0.4</text><text x="249.4" y="1046.4" text-anchor="middle" font-size="19.4">True strain</text><text transform="translate(24.5 866) rotate(-90)" text-anchor="middle" font-size="19.5">True stress/MPa</text><text x="254.4" y="1077.2" text-anchor="middle" font-size="21.5" stroke-width="0.15">(e)</text><text x="100.3" y="975.5999999999999" font-size="19.3">3.5×10<tspan dy="-6" dx="0.6" font-size="13.6">3</tspan><tspan dy="6" dx="2.2"> s</tspan><tspan dy="-6" dx="0.8" font-size="13.6">-1</tspan></text><path d="M322.8 885H346.0" stroke="#161616" stroke-width="1.1"/><g fill="#161616"><rect x="331.8" y="882.4" width="5.2" height="5.2"/></g><text x="349.6" y="891.0">840 <tspan class="dc" dx="0.5" font-size="17.5" textLength="19.5" lengthAdjust="spacingAndGlyphs">℃</tspan></text><path d="M322.8 908.5H346.0" stroke="#ee1c2e" stroke-width="1.1"/><g fill="#ee1c2e"><circle cx="334.4" cy="908.5" r="3.4"/></g><text x="349.6" y="914.5">870 <tspan class="dc" dx="0.5" font-size="17.5" textLength="19.5" lengthAdjust="spacingAndGlyphs">℃</tspan></text><path d="M322.8 932.3H346.0" stroke="#4db82f" stroke-width="1.1"/><g fill="#4db82f"><path d="M330.5 934.9h7.8l-3.9 -6.8z"/></g><text x="349.6" y="938.3">900 <tspan class="dc" dx="0.5" font-size="17.5" textLength="19.5" lengthAdjust="spacingAndGlyphs">℃</tspan></text><path d="M322.8 956.9H346.0" stroke="#2a40b4" stroke-width="1.1"/><g fill="#2a40b4"><path d="M330.5 954.3h7.8l-3.9 6.8z"/></g><text x="349.6" y="962.9">930 <tspan class="dc" dx="0.5" font-size="17.5" textLength="19.5" lengthAdjust="spacingAndGlyphs">℃</tspan></text></g>
<clipPath id="ccf"><rect x="503.4" y="726.5" width="337.3" height="266.0"/></clipPath><g clip-path="url(#ccf)"><g fill="#161616" stroke="none"><path d="M503.9 988.0 L503.9 982.0 L504.0 976.4 L504.0 970.2 L504.0 963.8 L504.1 957.8 L504.2 947.2 L504.3 937.2 L504.5 927.4 L504.7 915.0 L505.0 902.9 L505.5 891.4 L506.8 879.5 L508.4 867.9 L509.9 856.2 L511.8 844.9 L514.1 833.3 L516.5 827.1 L518.8 823.3 L521.4 819.9 L524.2 818.0 L526.7 816.6 L529.3 815.6 L532.0 814.8 L534.9 814.2 L537.2 813.8 L539.6 813.3 L542.1 812.9 L544.6 812.6 L547.0 812.5 L549.4 812.7 L551.8 813.0 L554.3 813.3 L556.9 813.6 L559.7 814.0 L562.5 814.3 L565.4 814.6 L568.2 814.6 L571.0 814.4 L573.8 814.1 L576.6 813.6 L579.4 813.0 L582.2 812.3 L585.0 811.4 L587.8 810.4 L590.6 809.4 L593.4 808.2 L596.2 806.9 L599.0 805.7 L601.8 804.4 L604.5 803.1 L607.2 801.8 L610.0 800.6 L613.1 799.6 L615.4 799.0 L617.7 798.4 L620.1 797.8 L622.5 797.4 L624.9 796.9 L627.2 796.5 L629.6 796.2 L631.9 795.9 L634.2 795.7 L636.6 795.4 L638.9 795.2 L641.2 794.9 L643.6 794.5 L645.9 794.2 L648.2 793.8 L650.6 793.5 L652.9 793.1 L655.3 792.7 L657.6 792.3 L660.0 791.8 L662.3 791.4 L664.7 791.0 L667.0 790.7 L669.2 790.4 L672.4 790.2 L675.5 790.1 L678.8 790.1 L681.2 790.1 L683.8 790.2 L686.6 790.3 L689.6 790.5 L692.5 790.7 L695.3 790.9 L698.0 791.1 L700.6 791.3 L703.0 791.4 L705.5 791.6 L707.8 791.8 L711.0 791.9 L713.9 792.0 L716.5 791.9 L718.9 791.8 L721.8 791.5 L724.4 791.1 L726.6 790.7 L728.8 790.1 L731.2 789.5 L733.5 788.8 L735.8 788.0 L738.2 787.1 L740.6 786.2 L742.8 785.2 L745.3 784.1 L747.5 783.1 L749.8 782.2 L752.2 781.5 L754.5 780.9 L756.8 780.5 L759.2 780.3 L761.5 780.4 L763.9 780.7 L766.2 781.3 L768.6 782.1 L770.9 783.1 L773.4 784.7 L775.8 786.5 L778.3 788.5 L780.5 790.6 L782.8 792.9 L785.1 795.7 L787.4 798.8 L792.6 810.1 L796.8 821.2 L800.3 834.5 L803.8 849.9 L807.7 866.8 L811.4 885.0 L815.1 903.1 L818.8 920.2 L822.8 935.8 L826.7 949.7 L830.4 960.8 L834.1 969.2 L837.5 974.1" fill="none" stroke="#161616" stroke-width="1.1"/><rect x="501.3" y="985.4" width="5.2" height="5.2"/><rect x="501.3" y="979.4" width="5.2" height="5.2"/><rect x="501.4" y="973.8" width="5.2" height="5.2"/><rect x="501.4" y="967.6" width="5.2" height="5.2"/><rect x="501.4" y="961.2" width="5.2" height="5.2"/><rect x="501.5" y="955.1" width="5.2" height="5.2"/><rect x="501.6" y="944.6" width="5.2" height="5.2"/><rect x="501.7" y="934.6" width="5.2" height="5.2"/><rect x="501.9" y="924.8" width="5.2" height="5.2"/><rect x="502.1" y="912.4" width="5.2" height="5.2"/><rect x="502.4" y="900.3" width="5.2" height="5.2"/><rect x="502.9" y="888.8" width="5.2" height="5.2"/><rect x="504.2" y="876.9" width="5.2" height="5.2"/><rect x="505.8" y="865.3" width="5.2" height="5.2"/><rect x="507.3" y="853.6" width="5.2" height="5.2"/><rect x="509.2" y="842.3" width="5.2" height="5.2"/><rect x="511.5" y="830.7" width="5.2" height="5.2"/><rect x="513.9" y="824.5" width="5.2" height="5.2"/><rect x="516.2" y="820.7" width="5.2" height="5.2"/><rect x="518.8" y="817.3" width="5.2" height="5.2"/><rect x="521.6" y="815.4" width="5.2" height="5.2"/><rect x="524.1" y="814.0" width="5.2" height="5.2"/><rect x="526.7" y="813.0" width="5.2" height="5.2"/><rect x="529.4" y="812.2" width="5.2" height="5.2"/><rect x="532.3" y="811.6" width="5.2" height="5.2"/><rect x="534.6" y="811.2" width="5.2" height="5.2"/><rect x="537.0" y="810.7" width="5.2" height="5.2"/><rect x="539.5" y="810.3" width="5.2" height="5.2"/><rect x="542.0" y="810.0" width="5.2" height="5.2"/><rect x="544.4" y="809.9" width="5.2" height="5.2"/><rect x="546.8" y="810.1" width="5.2" height="5.2"/><rect x="549.2" y="810.4" width="5.2" height="5.2"/><rect x="551.7" y="810.7" width="5.2" height="5.2"/><rect x="554.3" y="811.0" width="5.2" height="5.2"/><rect x="557.1" y="811.4" width="5.2" height="5.2"/><rect x="559.9" y="811.7" width="5.2" height="5.2"/><rect x="562.8" y="812.0" width="5.2" height="5.2"/><rect x="565.6" y="812.0" width="5.2" height="5.2"/><rect x="568.4" y="811.8" width="5.2" height="5.2"/><rect x="571.2" y="811.5" width="5.2" height="5.2"/><rect x="574.0" y="811.0" width="5.2" height="5.2"/><rect x="576.8" y="810.4" width="5.2" height="5.2"/><rect x="579.6" y="809.7" width="5.2" height="5.2"/><rect x="582.4" y="808.8" width="5.2" height="5.2"/><rect x="585.2" y="807.8" width="5.2" height="5.2"/><rect x="588.0" y="806.8" width="5.2" height="5.2"/><rect x="590.8" y="805.6" width="5.2" height="5.2"/><rect x="593.6" y="804.3" width="5.2" height="5.2"/><rect x="596.4" y="803.1" width="5.2" height="5.2"/><rect x="599.2" y="801.8" width="5.2" height="5.2"/><rect x="601.9" y="800.5" width="5.2" height="5.2"/><rect x="604.6" y="799.2" width="5.2" height="5.2"/><rect x="607.4" y="798.0" width="5.2" height="5.2"/><rect x="610.5" y="797.0" width="5.2" height="5.2"/><rect x="612.8" y="796.4" width="5.2" height="5.2"/><rect x="615.1" y="795.8" width="5.2" height="5.2"/><rect x="617.5" y="795.2" width="5.2" height="5.2"/><rect x="619.9" y="794.8" width="5.2" height="5.2"/><rect x="622.3" y="794.3" width="5.2" height="5.2"/><rect x="624.6" y="793.9" width="5.2" height="5.2"/><rect x="627.0" y="793.6" width="5.2" height="5.2"/><rect x="629.3" y="793.3" width="5.2" height="5.2"/><rect x="631.6" y="793.1" width="5.2" height="5.2"/><rect x="634.0" y="792.8" width="5.2" height="5.2"/><rect x="636.3" y="792.6" width="5.2" height="5.2"/><rect x="638.6" y="792.3" width="5.2" height="5.2"/><rect x="641.0" y="791.9" width="5.2" height="5.2"/><rect x="643.3" y="791.6" width="5.2" height="5.2"/><rect x="645.6" y="791.2" width="5.2" height="5.2"/><rect x="648.0" y="790.9" width="5.2" height="5.2"/><rect x="650.3" y="790.5" width="5.2" height="5.2"/><rect x="652.7" y="790.1" width="5.2" height="5.2"/><rect x="655.0" y="789.7" width="5.2" height="5.2"/><rect x="657.4" y="789.2" width="5.2" height="5.2"/><rect x="659.7" y="788.8" width="5.2" height="5.2"/><rect x="662.1" y="788.4" width="5.2" height="5.2"/><rect x="664.4" y="788.1" width="5.2" height="5.2"/><rect x="666.6" y="787.8" width="5.2" height="5.2"/><rect x="669.8" y="787.6" width="5.2" height="5.2"/><rect x="672.9" y="787.5" width="5.2" height="5.2"/><rect x="676.2" y="787.5" width="5.2" height="5.2"/><rect x="678.6" y="787.5" width="5.2" height="5.2"/><rect x="681.2" y="787.6" width="5.2" height="5.2"/><rect x="684.0" y="787.7" width="5.2" height="5.2"/><rect x="687.0" y="787.9" width="5.2" height="5.2"/><rect x="689.9" y="788.1" width="5.2" height="5.2"/><rect x="692.7" y="788.3" width="5.2" height="5.2"/><rect x="695.4" y="788.5" width="5.2" height="5.2"/><rect x="698.0" y="788.7" width="5.2" height="5.2"/><rect x="700.4" y="788.8" width="5.2" height="5.2"/><rect x="702.9" y="789.0" width="5.2" height="5.2"/><rect x="705.2" y="789.2" width="5.2" height="5.2"/><rect x="708.4" y="789.3" width="5.2" height="5.2"/><rect x="711.3" y="789.4" width="5.2" height="5.2"/><rect x="713.9" y="789.3" width="5.2" height="5.2"/><rect x="716.3" y="789.2" width="5.2" height="5.2"/><rect x="719.2" y="788.9" width="5.2" height="5.2"/><rect x="721.8" y="788.5" width="5.2" height="5.2"/><rect x="724.0" y="788.1" width="5.2" height="5.2"/><rect x="726.2" y="787.5" width="5.2" height="5.2"/><rect x="728.6" y="786.9" width="5.2" height="5.2"/><rect x="730.9" y="786.2" width="5.2" height="5.2"/><rect x="733.2" y="785.4" width="5.2" height="5.2"/><rect x="735.6" y="784.5" width="5.2" height="5.2"/><rect x="738.0" y="783.6" width="5.2" height="5.2"/><rect x="740.2" y="782.6" width="5.2" height="5.2"/><rect x="742.7" y="781.5" width="5.2" height="5.2"/><rect x="744.9" y="780.5" width="5.2" height="5.2"/><rect x="747.2" y="779.6" width="5.2" height="5.2"/><rect x="749.6" y="778.9" width="5.2" height="5.2"/><rect x="751.9" y="778.3" width="5.2" height="5.2"/><rect x="754.2" y="777.9" width="5.2" height="5.2"/><rect x="756.6" y="777.7" width="5.2" height="5.2"/><rect x="758.9" y="777.8" width="5.2" height="5.2"/><rect x="761.3" y="778.1" width="5.2" height="5.2"/><rect x="763.6" y="778.7" width="5.2" height="5.2"/><rect x="766.0" y="779.5" width="5.2" height="5.2"/><rect x="768.3" y="780.5" width="5.2" height="5.2"/><rect x="770.8" y="782.1" width="5.2" height="5.2"/><rect x="773.2" y="783.9" width="5.2" height="5.2"/><rect x="775.7" y="785.9" width="5.2" height="5.2"/><rect x="777.9" y="788.0" width="5.2" height="5.2"/><rect x="780.2" y="790.3" width="5.2" height="5.2"/><rect x="782.5" y="793.1" width="5.2" height="5.2"/><rect x="784.8" y="796.2" width="5.2" height="5.2"/><rect x="790.0" y="807.5" width="5.2" height="5.2"/><rect x="794.2" y="818.6" width="5.2" height="5.2"/><rect x="797.7" y="831.9" width="5.2" height="5.2"/><rect x="801.2" y="847.3" width="5.2" height="5.2"/><rect x="805.1" y="864.2" width="5.2" height="5.2"/><rect x="808.8" y="882.4" width="5.2" height="5.2"/><rect x="812.5" y="900.5" width="5.2" height="5.2"/><rect x="816.2" y="917.6" width="5.2" height="5.2"/><rect x="820.2" y="933.2" width="5.2" height="5.2"/><rect x="824.1" y="947.1" width="5.2" height="5.2"/><rect x="827.8" y="958.2" width="5.2" height="5.2"/><rect x="831.5" y="966.6" width="5.2" height="5.2"/><rect x="834.9" y="971.5" width="5.2" height="5.2"/></g>
<g fill="#ee1c2e" stroke="none"><path d="M504.0 986.0 L504.1 984.0 L504.2 978.4 L504.4 971.4 L504.6 963.5 L504.9 955.6 L505.2 945.0 L505.5 935.9 L505.8 927.2 L506.2 914.9 L507.0 902.9 L507.9 891.1 L509.4 878.8 L511.4 867.2 L513.7 855.3 L515.9 843.1 L518.2 832.8 L520.5 823.7 L522.9 816.3 L525.2 812.5 L527.5 810.2 L529.7 808.9 L532.2 808.4 L534.4 808.5 L536.9 809.0 L539.4 809.0 L541.7 808.7 L544.2 808.4 L546.8 808.1 L549.7 807.7 L552.5 807.6 L555.3 808.1 L558.1 809.2 L560.9 810.2 L563.7 811.0 L566.5 811.7 L569.3 812.1 L572.1 812.1 L574.9 811.8 L577.7 811.3 L580.5 810.6 L583.1 809.8 L586.0 808.7 L588.6 807.5 L591.3 805.9 L594.2 804.3 L597.1 802.6 L599.9 801.0 L602.8 799.3 L605.6 797.7 L608.4 796.2 L610.9 794.8 L613.2 793.5 L615.5 792.4 L618.1 791.4 L621.2 790.6 L623.4 790.3 L625.8 790.0 L628.2 789.8 L630.7 789.6 L633.1 789.4 L635.4 789.3 L637.7 789.1 L640.1 789.0 L642.4 789.0 L644.7 788.9 L647.1 788.7 L649.4 788.5 L651.6 788.4 L653.9 788.1 L656.2 787.9 L658.6 787.6 L661.1 787.3 L663.9 786.9 L666.9 786.4 L670.1 785.9 L673.2 785.3 L676.0 784.9 L678.4 784.5 L681.1 784.2 L683.8 783.9 L686.1 783.8 L688.9 783.8 L691.7 784.0 L694.5 784.1 L697.3 784.1 L700.2 784.1 L703.0 783.9 L705.5 783.3 L707.8 782.3 L710.0 781.3 L712.3 780.3 L714.6 779.3 L717.0 778.4 L719.6 777.7 L722.5 777.2 L725.3 776.9 L728.2 776.6 L731.0 776.5 L733.8 776.5 L736.3 776.5 L738.7 776.6 L740.9 776.7 L743.5 777.1 L745.8 777.7 L748.2 778.9 L750.6 781.1 L753.0 783.7 L755.2 786.8 L757.6 791.0 L761.8 805.5 L765.0 816.0 L768.1 829.3 L771.1 844.7 L773.9 861.1 L773.9 861.7 L776.5 879.3 L779.3 897.2 L781.9 914.7 L784.7 930.4 L787.2 944.0 L789.3 954.5 L791.5 961.0 L793.6 965.0 L795.8 968.4" fill="none" stroke="#ee1c2e" stroke-width="1.1"/><circle cx="504.0" cy="986.0" r="3.4"/><circle cx="504.1" cy="984.0" r="3.4"/><circle cx="504.2" cy="978.4" r="3.4"/><circle cx="504.4" cy="971.4" r="3.4"/><circle cx="504.6" cy="963.5" r="3.4"/><circle cx="504.9" cy="955.6" r="3.4"/><circle cx="505.2" cy="945.0" r="3.4"/><circle cx="505.5" cy="935.9" r="3.4"/><circle cx="505.8" cy="927.2" r="3.4"/><circle cx="506.2" cy="914.9" r="3.4"/><circle cx="507.0" cy="902.9" r="3.4"/><circle cx="507.9" cy="891.1" r="3.4"/><circle cx="509.4" cy="878.8" r="3.4"/><circle cx="511.4" cy="867.2" r="3.4"/><circle cx="513.7" cy="855.3" r="3.4"/><circle cx="515.9" cy="843.1" r="3.4"/><circle cx="518.2" cy="832.8" r="3.4"/><circle cx="520.5" cy="823.7" r="3.4"/><circle cx="522.9" cy="816.3" r="3.4"/><circle cx="525.2" cy="812.5" r="3.4"/><circle cx="527.5" cy="810.2" r="3.4"/><circle cx="529.7" cy="808.9" r="3.4"/><circle cx="532.2" cy="808.4" r="3.4"/><circle cx="534.4" cy="808.5" r="3.4"/><circle cx="536.9" cy="809.0" r="3.4"/><circle cx="539.4" cy="809.0" r="3.4"/><circle cx="541.7" cy="808.7" r="3.4"/><circle cx="544.2" cy="808.4" r="3.4"/><circle cx="546.8" cy="808.1" r="3.4"/><circle cx="549.7" cy="807.7" r="3.4"/><circle cx="552.5" cy="807.6" r="3.4"/><circle cx="555.3" cy="808.1" r="3.4"/><circle cx="558.1" cy="809.2" r="3.4"/><circle cx="560.9" cy="810.2" r="3.4"/><circle cx="563.7" cy="811.0" r="3.4"/><circle cx="566.5" cy="811.7" r="3.4"/><circle cx="569.3" cy="812.1" r="3.4"/><circle cx="572.1" cy="812.1" r="3.4"/><circle cx="574.9" cy="811.8" r="3.4"/><circle cx="577.7" cy="811.3" r="3.4"/><circle cx="580.5" cy="810.6" r="3.4"/><circle cx="583.1" cy="809.8" r="3.4"/><circle cx="586.0" cy="808.7" r="3.4"/><circle cx="588.6" cy="807.5" r="3.4"/><circle cx="591.3" cy="805.9" r="3.4"/><circle cx="594.2" cy="804.3" r="3.4"/><circle cx="597.1" cy="802.6" r="3.4"/><circle cx="599.9" cy="801.0" r="3.4"/><circle cx="602.8" cy="799.3" r="3.4"/><circle cx="605.6" cy="797.7" r="3.4"/><circle cx="608.4" cy="796.2" r="3.4"/><circle cx="610.9" cy="794.8" r="3.4"/><circle cx="613.2" cy="793.5" r="3.4"/><circle cx="615.5" cy="792.4" r="3.4"/><circle cx="618.1" cy="791.4" r="3.4"/><circle cx="621.2" cy="790.6" r="3.4"/><circle cx="623.4" cy="790.3" r="3.4"/><circle cx="625.8" cy="790.0" r="3.4"/><circle cx="628.2" cy="789.8" r="3.4"/><circle cx="630.7" cy="789.6" r="3.4"/><circle cx="633.1" cy="789.4" r="3.4"/><circle cx="635.4" cy="789.3" r="3.4"/><circle cx="637.7" cy="789.1" r="3.4"/><circle cx="640.1" cy="789.0" r="3.4"/><circle cx="642.4" cy="789.0" r="3.4"/><circle cx="644.7" cy="788.9" r="3.4"/><circle cx="647.1" cy="788.7" r="3.4"/><circle cx="649.4" cy="788.5" r="3.4"/><circle cx="651.6" cy="788.4" r="3.4"/><circle cx="653.9" cy="788.1" r="3.4"/><circle cx="656.2" cy="787.9" r="3.4"/><circle cx="658.6" cy="787.6" r="3.4"/><circle cx="661.1" cy="787.3" r="3.4"/><circle cx="663.9" cy="786.9" r="3.4"/><circle cx="666.9" cy="786.4" r="3.4"/><circle cx="670.1" cy="785.9" r="3.4"/><circle cx="673.2" cy="785.3" r="3.4"/><circle cx="676.0" cy="784.9" r="3.4"/><circle cx="678.4" cy="784.5" r="3.4"/><circle cx="681.1" cy="784.2" r="3.4"/><circle cx="683.8" cy="783.9" r="3.4"/><circle cx="686.1" cy="783.8" r="3.4"/><circle cx="688.9" cy="783.8" r="3.4"/><circle cx="691.7" cy="784.0" r="3.4"/><circle cx="694.5" cy="784.1" r="3.4"/><circle cx="697.3" cy="784.1" r="3.4"/><circle cx="700.2" cy="784.1" r="3.4"/><circle cx="703.0" cy="783.9" r="3.4"/><circle cx="705.5" cy="783.3" r="3.4"/><circle cx="707.8" cy="782.3" r="3.4"/><circle cx="710.0" cy="781.3" r="3.4"/><circle cx="712.3" cy="780.3" r="3.4"/><circle cx="714.6" cy="779.3" r="3.4"/><circle cx="717.0" cy="778.4" r="3.4"/><circle cx="719.6" cy="777.7" r="3.4"/><circle cx="722.5" cy="777.2" r="3.4"/><circle cx="725.3" cy="776.9" r="3.4"/><circle cx="728.2" cy="776.6" r="3.4"/><circle cx="731.0" cy="776.5" r="3.4"/><circle cx="733.8" cy="776.5" r="3.4"/><circle cx="736.3" cy="776.5" r="3.4"/><circle cx="738.7" cy="776.6" r="3.4"/><circle cx="740.9" cy="776.7" r="3.4"/><circle cx="743.5" cy="777.1" r="3.4"/><circle cx="745.8" cy="777.7" r="3.4"/><circle cx="748.2" cy="778.9" r="3.4"/><circle cx="750.6" cy="781.1" r="3.4"/><circle cx="753.0" cy="783.7" r="3.4"/><circle cx="755.2" cy="786.8" r="3.4"/><circle cx="757.6" cy="791.0" r="3.4"/><circle cx="761.8" cy="805.5" r="3.4"/><circle cx="765.0" cy="816.0" r="3.4"/><circle cx="768.1" cy="829.3" r="3.4"/><circle cx="771.1" cy="844.7" r="3.4"/><circle cx="773.9" cy="861.1" r="3.4"/><circle cx="773.9" cy="861.7" r="3.4"/><circle cx="776.5" cy="879.3" r="3.4"/><circle cx="779.3" cy="897.2" r="3.4"/><circle cx="781.9" cy="914.7" r="3.4"/><circle cx="784.7" cy="930.4" r="3.4"/><circle cx="787.2" cy="944.0" r="3.4"/><circle cx="789.3" cy="954.5" r="3.4"/><circle cx="791.5" cy="961.0" r="3.4"/><circle cx="793.6" cy="965.0" r="3.4"/><circle cx="795.8" cy="968.4" r="3.4"/></g>
<g fill="#4db82f" stroke="none"><path d="M505.5 990.5 L505.6 987.3 L505.9 981.0 L506.2 974.8 L506.9 968.5 L507.8 962.7 L508.5 956.6 L509.7 947.7 L510.9 939.5 L511.9 931.1 L513.2 918.9 L513.3 906.6 L513.8 894.3 L515.9 882.6 L517.7 871.0 L520.0 859.1 L522.3 848.6 L524.8 840.5 L527.1 834.7 L529.4 830.2 L531.9 826.8 L534.3 824.7 L536.9 822.7 L539.1 821.2 L541.5 819.8 L544.2 818.4 L546.4 817.3 L549.0 816.0 L551.2 815.0 L553.7 813.9 L556.2 812.8 L558.8 811.8 L561.5 810.9 L564.3 810.0 L567.2 809.1 L570.0 808.3 L572.8 807.6 L575.6 807.0 L578.4 806.4 L581.2 805.9 L584.0 805.6 L586.8 805.5 L589.6 805.2 L592.5 804.8 L595.3 804.1 L598.2 803.2 L601.1 802.3 L603.7 801.3 L606.0 800.4 L608.7 799.2 L611.4 798.1 L614.1 797.2 L616.7 796.5 L619.6 795.9 L622.3 795.4 L625.4 795.1 L628.6 794.7 L630.8 794.5 L633.1 794.3 L635.3 794.2 L637.6 794.0 L640.0 793.9 L642.4 793.8 L644.7 793.7 L647.1 793.6 L649.4 793.5 L651.6 793.4 L653.9 793.3 L656.2 793.1 L658.6 793.0 L661.1 792.9 L663.9 792.8 L667.1 792.7 L670.3 792.6 L673.4 792.6 L676.2 792.5 L678.4 792.5 L680.8 792.6 L683.3 792.9 L685.9 792.8 L688.2 792.7 L690.7 792.5 L693.2 792.3 L695.7 792.1 L698.0 791.9 L701.1 791.9 L704.1 791.9 L706.8 791.8 L709.2 791.5 L711.9 790.6 L714.6 788.9 L716.8 787.8 L719.2 786.7 L721.6 785.8 L724.2 784.9 L726.5 784.3 L728.8 784.1 L731.1 784.1 L733.5 784.4 L735.8 784.9 L738.2 785.8 L740.6 786.9 L742.8 788.0 L745.3 789.4 L747.5 790.9 L749.8 792.5 L752.2 794.2 L754.5 796.1 L756.8 798.0 L759.2 800.1 L761.7 803.1 L764.2 806.3 L767.3 810.6 L769.4 813.8 L771.3 816.7 L773.0 819.6 L774.7 822.4 L776.5 825.6 L778.2 828.8 L780.0 832.0 L781.7 835.3 L783.5 838.4 L785.2 841.5 L787.0 844.4 L788.7 846.9 L790.8 849.7 L792.9 852.4 L795.1 855.2 L796.7 857.7 L798.2 860.7 L799.6 863.7 L800.8 866.5 L802.0 869.4 L803.0 872.7 L803.9 876.2 L804.6 879.8 L805.2 883.7 L805.6 886.9 L805.0 885.0 L803.9 880.5 L803.2 877.4 L802.4 874.0 L802.9 876.9 L803.5 880.1 L804.1 883.4 L804.6 886.4 L804.9 889.5 L805.1 892.6 L805.2 894.1" fill="none" stroke="#4db82f" stroke-width="1.1"/><path d="M501.6 993.1h7.8l-3.9 -6.8z"/><path d="M501.7 989.9h7.8l-3.9 -6.8z"/><path d="M502.0 983.6h7.8l-3.9 -6.8z"/><path d="M502.3 977.4h7.8l-3.9 -6.8z"/><path d="M503.0 971.1h7.8l-3.9 -6.8z"/><path d="M503.9 965.3h7.8l-3.9 -6.8z"/><path d="M504.6 959.2h7.8l-3.9 -6.8z"/><path d="M505.8 950.3h7.8l-3.9 -6.8z"/><path d="M507.0 942.1h7.8l-3.9 -6.8z"/><path d="M508.0 933.7h7.8l-3.9 -6.8z"/><path d="M509.3 921.5h7.8l-3.9 -6.8z"/><path d="M509.4 909.2h7.8l-3.9 -6.8z"/><path d="M509.9 896.9h7.8l-3.9 -6.8z"/><path d="M512.0 885.2h7.8l-3.9 -6.8z"/><path d="M513.8 873.6h7.8l-3.9 -6.8z"/><path d="M516.1 861.7h7.8l-3.9 -6.8z"/><path d="M518.4 851.2h7.8l-3.9 -6.8z"/><path d="M520.9 843.1h7.8l-3.9 -6.8z"/><path d="M523.2 837.3h7.8l-3.9 -6.8z"/><path d="M525.5 832.8h7.8l-3.9 -6.8z"/><path d="M528.0 829.4h7.8l-3.9 -6.8z"/><path d="M530.4 827.3h7.8l-3.9 -6.8z"/><path d="M533.0 825.3h7.8l-3.9 -6.8z"/><path d="M535.2 823.8h7.8l-3.9 -6.8z"/><path d="M537.6 822.4h7.8l-3.9 -6.8z"/><path d="M540.3 821.0h7.8l-3.9 -6.8z"/><path d="M542.5 819.9h7.8l-3.9 -6.8z"/><path d="M545.1 818.6h7.8l-3.9 -6.8z"/><path d="M547.3 817.6h7.8l-3.9 -6.8z"/><path d="M549.8 816.5h7.8l-3.9 -6.8z"/><path d="M552.3 815.4h7.8l-3.9 -6.8z"/><path d="M554.9 814.4h7.8l-3.9 -6.8z"/><path d="M557.6 813.5h7.8l-3.9 -6.8z"/><path d="M560.4 812.6h7.8l-3.9 -6.8z"/><path d="M563.3 811.7h7.8l-3.9 -6.8z"/><path d="M566.1 810.9h7.8l-3.9 -6.8z"/><path d="M568.9 810.2h7.8l-3.9 -6.8z"/><path d="M571.7 809.6h7.8l-3.9 -6.8z"/><path d="M574.5 809.0h7.8l-3.9 -6.8z"/><path d="M577.3 808.5h7.8l-3.9 -6.8z"/><path d="M580.1 808.2h7.8l-3.9 -6.8z"/><path d="M582.9 808.1h7.8l-3.9 -6.8z"/><path d="M585.7 807.8h7.8l-3.9 -6.8z"/><path d="M588.6 807.4h7.8l-3.9 -6.8z"/><path d="M591.4 806.7h7.8l-3.9 -6.8z"/><path d="M594.3 805.8h7.8l-3.9 -6.8z"/><path d="M597.2 804.9h7.8l-3.9 -6.8z"/><path d="M599.8 803.9h7.8l-3.9 -6.8z"/><path d="M602.1 803.0h7.8l-3.9 -6.8z"/><path d="M604.8 801.8h7.8l-3.9 -6.8z"/><path d="M607.5 800.7h7.8l-3.9 -6.8z"/><path d="M610.2 799.8h7.8l-3.9 -6.8z"/><path d="M612.8 799.1h7.8l-3.9 -6.8z"/><path d="M615.7 798.5h7.8l-3.9 -6.8z"/><path d="M618.4 798.0h7.8l-3.9 -6.8z"/><path d="M621.5 797.7h7.8l-3.9 -6.8z"/><path d="M624.7 797.3h7.8l-3.9 -6.8z"/><path d="M626.9 797.1h7.8l-3.9 -6.8z"/><path d="M629.2 796.9h7.8l-3.9 -6.8z"/><path d="M631.4 796.8h7.8l-3.9 -6.8z"/><path d="M633.7 796.6h7.8l-3.9 -6.8z"/><path d="M636.1 796.5h7.8l-3.9 -6.8z"/><path d="M638.5 796.4h7.8l-3.9 -6.8z"/><path d="M640.8 796.3h7.8l-3.9 -6.8z"/><path d="M643.2 796.2h7.8l-3.9 -6.8z"/><path d="M645.5 796.1h7.8l-3.9 -6.8z"/><path d="M647.7 796.0h7.8l-3.9 -6.8z"/><path d="M650.0 795.9h7.8l-3.9 -6.8z"/><path d="M652.3 795.7h7.8l-3.9 -6.8z"/><path d="M654.7 795.6h7.8l-3.9 -6.8z"/><path d="M657.2 795.5h7.8l-3.9 -6.8z"/><path d="M660.0 795.4h7.8l-3.9 -6.8z"/><path d="M663.2 795.3h7.8l-3.9 -6.8z"/><path d="M666.4 795.2h7.8l-3.9 -6.8z"/><path d="M669.5 795.2h7.8l-3.9 -6.8z"/><path d="M672.3 795.1h7.8l-3.9 -6.8z"/><path d="M674.5 795.1h7.8l-3.9 -6.8z"/><path d="M676.9 795.2h7.8l-3.9 -6.8z"/><path d="M679.4 795.5h7.8l-3.9 -6.8z"/><path d="M682.0 795.4h7.8l-3.9 -6.8z"/><path d="M684.3 795.3h7.8l-3.9 -6.8z"/><path d="M686.8 795.1h7.8l-3.9 -6.8z"/><path d="M689.3 794.9h7.8l-3.9 -6.8z"/><path d="M691.8 794.7h7.8l-3.9 -6.8z"/><path d="M694.1 794.5h7.8l-3.9 -6.8z"/><path d="M697.2 794.5h7.8l-3.9 -6.8z"/><path d="M700.2 794.5h7.8l-3.9 -6.8z"/><path d="M702.9 794.4h7.8l-3.9 -6.8z"/><path d="M705.3 794.1h7.8l-3.9 -6.8z"/><path d="M708.0 793.2h7.8l-3.9 -6.8z"/><path d="M710.7 791.5h7.8l-3.9 -6.8z"/><path d="M712.9 790.4h7.8l-3.9 -6.8z"/><path d="M715.3 789.3h7.8l-3.9 -6.8z"/><path d="M717.7 788.4h7.8l-3.9 -6.8z"/><path d="M720.3 787.5h7.8l-3.9 -6.8z"/><path d="M722.6 786.9h7.8l-3.9 -6.8z"/><path d="M724.9 786.7h7.8l-3.9 -6.8z"/><path d="M727.2 786.7h7.8l-3.9 -6.8z"/><path d="M729.6 787.0h7.8l-3.9 -6.8z"/><path d="M731.9 787.5h7.8l-3.9 -6.8z"/><path d="M734.3 788.4h7.8l-3.9 -6.8z"/><path d="M736.7 789.5h7.8l-3.9 -6.8z"/><path d="M738.9 790.6h7.8l-3.9 -6.8z"/><path d="M741.4 792.0h7.8l-3.9 -6.8z"/><path d="M743.6 793.5h7.8l-3.9 -6.8z"/><path d="M745.9 795.1h7.8l-3.9 -6.8z"/><path d="M748.3 796.8h7.8l-3.9 -6.8z"/><path d="M750.6 798.7h7.8l-3.9 -6.8z"/><path d="M752.9 800.6h7.8l-3.9 -6.8z"/><path d="M755.3 802.7h7.8l-3.9 -6.8z"/><path d="M757.8 805.7h7.8l-3.9 -6.8z"/><path d="M760.3 808.9h7.8l-3.9 -6.8z"/><path d="M763.4 813.2h7.8l-3.9 -6.8z"/><path d="M765.5 816.4h7.8l-3.9 -6.8z"/><path d="M767.4 819.3h7.8l-3.9 -6.8z"/><path d="M769.1 822.2h7.8l-3.9 -6.8z"/><path d="M770.8 825.0h7.8l-3.9 -6.8z"/><path d="M772.6 828.2h7.8l-3.9 -6.8z"/><path d="M774.3 831.4h7.8l-3.9 -6.8z"/><path d="M776.1 834.6h7.8l-3.9 -6.8z"/><path d="M777.8 837.9h7.8l-3.9 -6.8z"/><path d="M779.6 841.0h7.8l-3.9 -6.8z"/><path d="M781.3 844.1h7.8l-3.9 -6.8z"/><path d="M783.1 847.0h7.8l-3.9 -6.8z"/><path d="M784.8 849.5h7.8l-3.9 -6.8z"/><path d="M786.9 852.3h7.8l-3.9 -6.8z"/><path d="M789.0 855.0h7.8l-3.9 -6.8z"/><path d="M791.2 857.8h7.8l-3.9 -6.8z"/><path d="M792.8 860.3h7.8l-3.9 -6.8z"/><path d="M794.3 863.3h7.8l-3.9 -6.8z"/><path d="M795.7 866.3h7.8l-3.9 -6.8z"/><path d="M796.9 869.1h7.8l-3.9 -6.8z"/><path d="M798.1 872.0h7.8l-3.9 -6.8z"/><path d="M799.1 875.3h7.8l-3.9 -6.8z"/><path d="M800.0 878.8h7.8l-3.9 -6.8z"/><path d="M800.7 882.4h7.8l-3.9 -6.8z"/><path d="M801.3 886.3h7.8l-3.9 -6.8z"/><path d="M801.7 889.5h7.8l-3.9 -6.8z"/><path d="M801.1 887.6h7.8l-3.9 -6.8z"/><path d="M800.0 883.1h7.8l-3.9 -6.8z"/><path d="M799.3 880.0h7.8l-3.9 -6.8z"/><path d="M798.5 876.6h7.8l-3.9 -6.8z"/><path d="M799.0 879.5h7.8l-3.9 -6.8z"/><path d="M799.6 882.7h7.8l-3.9 -6.8z"/><path d="M800.2 886.0h7.8l-3.9 -6.8z"/><path d="M800.7 889.0h7.8l-3.9 -6.8z"/><path d="M801.0 892.1h7.8l-3.9 -6.8z"/><path d="M801.2 895.2h7.8l-3.9 -6.8z"/><path d="M801.3 896.7h7.8l-3.9 -6.8z"/></g>
<g fill="#2a40b4" stroke="none"><path d="M504.4 985.0 L504.5 983.8 L504.8 976.3 L505.1 969.1 L505.4 962.1 L505.7 955.9 L506.3 947.8 L506.9 938.6 L507.4 929.8 L508.2 917.7 L509.0 905.8 L509.6 893.0 L511.4 881.6 L513.7 871.0 L515.9 858.9 L518.2 848.2 L520.5 840.1 L522.8 831.8 L525.2 824.9 L527.6 819.7 L530.0 816.7 L532.3 814.7 L534.7 813.4 L537.3 812.1 L539.6 810.9 L542.0 809.7 L544.7 808.7 L547.0 807.9 L549.7 807.2 L552.0 806.5 L554.5 805.9 L557.1 805.4 L559.7 805.0 L562.5 804.7 L565.3 804.5 L568.2 804.3 L571.0 804.0 L573.8 803.7 L576.7 803.4 L579.5 803.0 L582.1 802.6 L584.6 802.2 L587.0 801.9 L589.4 801.3 L591.9 800.6 L594.3 799.6 L596.8 798.5 L599.2 797.4 L601.7 796.4 L604.1 795.5 L606.6 794.7 L609.0 794.0 L611.5 793.5 L613.8 793.2 L616.2 793.1 L618.7 793.0 L621.4 792.9 L624.4 792.8 L627.6 792.7 L630.9 792.6 L633.1 792.5 L635.3 792.4 L637.6 792.3 L640.0 792.3 L642.4 792.2 L644.7 792.1 L647.1 791.9 L649.4 791.8 L651.6 791.6 L653.9 791.5 L656.2 791.3 L658.6 791.1 L661.1 790.8 L663.9 790.5 L667.1 790.1 L670.3 789.7 L673.4 789.3 L676.2 789.0 L678.4 788.7 L680.8 788.4 L683.3 788.1 L685.9 787.9 L688.3 787.8 L690.8 787.6 L693.5 787.5 L695.9 787.4 L698.9 787.3 L701.3 787.2 L704.0 787.2 L706.4 787.3 L709.1 787.5 L711.6 787.9 L713.9 788.9 L716.3 791.0 L721.1 798.1 L723.9 804.8 L727.2 812.9 L730.5 822.8 L733.3 836.3 L736.1 851.8 L738.4 868.5 L741.8 886.7 L745.2 903.7 L748.2 921.5 L751.6 935.2 L755.0 947.2 L758.6 954.5 L762.6 957.9 L766.0 958.6 L769.4 956.5 L771.7 955.1" fill="none" stroke="#2a40b4" stroke-width="1.1"/><path d="M500.5 982.4h7.8l-3.9 6.8z"/><path d="M500.6 981.2h7.8l-3.9 6.8z"/><path d="M500.9 973.7h7.8l-3.9 6.8z"/><path d="M501.2 966.5h7.8l-3.9 6.8z"/><path d="M501.5 959.5h7.8l-3.9 6.8z"/><path d="M501.8 953.3h7.8l-3.9 6.8z"/><path d="M502.4 945.2h7.8l-3.9 6.8z"/><path d="M503.0 936.0h7.8l-3.9 6.8z"/><path d="M503.5 927.2h7.8l-3.9 6.8z"/><path d="M504.3 915.1h7.8l-3.9 6.8z"/><path d="M505.1 903.2h7.8l-3.9 6.8z"/><path d="M505.7 890.4h7.8l-3.9 6.8z"/><path d="M507.5 879.0h7.8l-3.9 6.8z"/><path d="M509.8 868.4h7.8l-3.9 6.8z"/><path d="M512.0 856.3h7.8l-3.9 6.8z"/><path d="M514.3 845.6h7.8l-3.9 6.8z"/><path d="M516.6 837.5h7.8l-3.9 6.8z"/><path d="M518.9 829.2h7.8l-3.9 6.8z"/><path d="M521.3 822.3h7.8l-3.9 6.8z"/><path d="M523.7 817.1h7.8l-3.9 6.8z"/><path d="M526.1 814.1h7.8l-3.9 6.8z"/><path d="M528.4 812.1h7.8l-3.9 6.8z"/><path d="M530.8 810.8h7.8l-3.9 6.8z"/><path d="M533.4 809.5h7.8l-3.9 6.8z"/><path d="M535.7 808.3h7.8l-3.9 6.8z"/><path d="M538.1 807.1h7.8l-3.9 6.8z"/><path d="M540.8 806.1h7.8l-3.9 6.8z"/><path d="M543.1 805.3h7.8l-3.9 6.8z"/><path d="M545.8 804.6h7.8l-3.9 6.8z"/><path d="M548.1 803.9h7.8l-3.9 6.8z"/><path d="M550.6 803.3h7.8l-3.9 6.8z"/><path d="M553.2 802.8h7.8l-3.9 6.8z"/><path d="M555.8 802.4h7.8l-3.9 6.8z"/><path d="M558.6 802.1h7.8l-3.9 6.8z"/><path d="M561.4 801.9h7.8l-3.9 6.8z"/><path d="M564.3 801.7h7.8l-3.9 6.8z"/><path d="M567.1 801.4h7.8l-3.9 6.8z"/><path d="M569.9 801.1h7.8l-3.9 6.8z"/><path d="M572.8 800.8h7.8l-3.9 6.8z"/><path d="M575.6 800.4h7.8l-3.9 6.8z"/><path d="M578.2 800.0h7.8l-3.9 6.8z"/><path d="M580.7 799.6h7.8l-3.9 6.8z"/><path d="M583.1 799.3h7.8l-3.9 6.8z"/><path d="M585.5 798.7h7.8l-3.9 6.8z"/><path d="M588.0 798.0h7.8l-3.9 6.8z"/><path d="M590.4 797.0h7.8l-3.9 6.8z"/><path d="M592.9 795.9h7.8l-3.9 6.8z"/><path d="M595.3 794.8h7.8l-3.9 6.8z"/><path d="M597.8 793.8h7.8l-3.9 6.8z"/><path d="M600.2 792.9h7.8l-3.9 6.8z"/><path d="M602.7 792.1h7.8l-3.9 6.8z"/><path d="M605.1 791.4h7.8l-3.9 6.8z"/><path d="M607.6 790.9h7.8l-3.9 6.8z"/><path d="M609.9 790.6h7.8l-3.9 6.8z"/><path d="M612.3 790.5h7.8l-3.9 6.8z"/><path d="M614.8 790.4h7.8l-3.9 6.8z"/><path d="M617.5 790.3h7.8l-3.9 6.8z"/><path d="M620.5 790.2h7.8l-3.9 6.8z"/><path d="M623.7 790.1h7.8l-3.9 6.8z"/><path d="M627.0 790.0h7.8l-3.9 6.8z"/><path d="M629.2 789.9h7.8l-3.9 6.8z"/><path d="M631.4 789.8h7.8l-3.9 6.8z"/><path d="M633.7 789.7h7.8l-3.9 6.8z"/><path d="M636.1 789.7h7.8l-3.9 6.8z"/><path d="M638.5 789.6h7.8l-3.9 6.8z"/><path d="M640.8 789.5h7.8l-3.9 6.8z"/><path d="M643.2 789.3h7.8l-3.9 6.8z"/><path d="M645.5 789.2h7.8l-3.9 6.8z"/><path d="M647.7 789.0h7.8l-3.9 6.8z"/><path d="M650.0 788.9h7.8l-3.9 6.8z"/><path d="M652.3 788.7h7.8l-3.9 6.8z"/><path d="M654.7 788.5h7.8l-3.9 6.8z"/><path d="M657.2 788.2h7.8l-3.9 6.8z"/><path d="M660.0 787.9h7.8l-3.9 6.8z"/><path d="M663.2 787.5h7.8l-3.9 6.8z"/><path d="M666.4 787.1h7.8l-3.9 6.8z"/><path d="M669.5 786.7h7.8l-3.9 6.8z"/><path d="M672.3 786.4h7.8l-3.9 6.8z"/><path d="M674.5 786.1h7.8l-3.9 6.8z"/><path d="M676.9 785.8h7.8l-3.9 6.8z"/><path d="M679.4 785.5h7.8l-3.9 6.8z"/><path d="M682.0 785.3h7.8l-3.9 6.8z"/><path d="M684.4 785.2h7.8l-3.9 6.8z"/><path d="M686.9 785.0h7.8l-3.9 6.8z"/><path d="M689.6 784.9h7.8l-3.9 6.8z"/><path d="M692.0 784.8h7.8l-3.9 6.8z"/><path d="M695.0 784.7h7.8l-3.9 6.8z"/><path d="M697.4 784.6h7.8l-3.9 6.8z"/><path d="M700.1 784.6h7.8l-3.9 6.8z"/><path d="M702.5 784.7h7.8l-3.9 6.8z"/><path d="M705.2 784.9h7.8l-3.9 6.8z"/><path d="M707.7 785.3h7.8l-3.9 6.8z"/><path d="M710.0 786.3h7.8l-3.9 6.8z"/><path d="M712.4 788.4h7.8l-3.9 6.8z"/><path d="M717.2 795.5h7.8l-3.9 6.8z"/><path d="M720.0 802.2h7.8l-3.9 6.8z"/><path d="M723.3 810.3h7.8l-3.9 6.8z"/><path d="M726.6 820.2h7.8l-3.9 6.8z"/><path d="M729.4 833.7h7.8l-3.9 6.8z"/><path d="M732.2 849.2h7.8l-3.9 6.8z"/><path d="M734.5 865.9h7.8l-3.9 6.8z"/><path d="M737.9 884.1h7.8l-3.9 6.8z"/><path d="M741.3 901.1h7.8l-3.9 6.8z"/><path d="M744.3 918.9h7.8l-3.9 6.8z"/><path d="M747.7 932.6h7.8l-3.9 6.8z"/><path d="M751.1 944.6h7.8l-3.9 6.8z"/><path d="M754.7 951.9h7.8l-3.9 6.8z"/><path d="M758.7 955.3h7.8l-3.9 6.8z"/><path d="M762.1 956.0h7.8l-3.9 6.8z"/><path d="M765.5 953.9h7.8l-3.9 6.8z"/><path d="M767.8 952.5h7.8l-3.9 6.8z"/></g>
</g><rect x="503.9" y="726.5" width="336.3" height="266.0" fill="none" stroke="#0c0c0c" stroke-width="2.1"/>
<path d="M545.9 992.5v-3.0 M588.0 992.5v-4.2 M630.0 992.5v-3.0 M672.1 992.5v-4.2 M714.2 992.5v-3.0 M756.2 992.5v-4.2 M798.3 992.5v-3.0 M503.9 755.8h4.2 M503.9 785.7h3.0 M503.9 815.6h4.2 M503.9 845.5h3.0 M503.9 875.4h4.2 M503.9 905.3h3.0 M503.9 935.2h4.2 M503.9 965.1h3.0 " stroke="#0c0c0c" stroke-width="1.3" fill="none"/>
<g font-size="18.6" fill="#111" stroke="#111" stroke-width="0.4"><text x="497.1" y="759.2" text-anchor="end">1600</text><text x="497.1" y="819.7" text-anchor="end">1200</text><text x="497.1" y="880.1" text-anchor="end">800</text><text x="497.1" y="940.6" text-anchor="end">400</text><text x="492.8" y="1014.8" text-anchor="middle">0</text><text x="588.0" y="1014.8" text-anchor="middle">0.1</text><text x="672.1" y="1014.8" text-anchor="middle">0.2</text><text x="756.2" y="1014.8" text-anchor="middle">0.3</text><text x="839.0" y="1014.8" text-anchor="middle">0.4</text><text x="669.5" y="1046.4" text-anchor="middle" font-size="19.4">True strain</text><text transform="translate(449.5 866) rotate(-90)" text-anchor="middle" font-size="19.5">True stress/MPa</text><text x="678.3" y="1077.2" text-anchor="middle" font-size="21.5" stroke-width="0.15">(f)</text><text x="519.4000000000001" y="980.8" font-size="19.3">3.5×10<tspan dy="-6" dx="0.6" font-size="13.6">3</tspan><tspan dy="6" dx="2.2"> s</tspan><tspan dy="-6" dx="0.8" font-size="13.6">-1</tspan></text><path d="M621.8 886.4H649.9" stroke="#161616" stroke-width="1.1"/><g fill="#161616"><rect x="633.2" y="883.8" width="5.2" height="5.2"/></g><text x="654.2" y="892.4">840 <tspan class="dc" dx="0.5" font-size="17.5" textLength="19.5" lengthAdjust="spacingAndGlyphs">℃</tspan></text><path d="M621.8 911.5H649.9" stroke="#ee1c2e" stroke-width="1.1"/><g fill="#ee1c2e"><circle cx="635.8" cy="911.5" r="3.4"/></g><text x="654.2" y="917.5">870 <tspan class="dc" dx="0.5" font-size="17.5" textLength="19.5" lengthAdjust="spacingAndGlyphs">℃</tspan></text><path d="M621.8 936.0H649.9" stroke="#4db82f" stroke-width="1.1"/><g fill="#4db82f"><path d="M631.9 938.6h7.8l-3.9 -6.8z"/></g><text x="654.2" y="942.0">900 <tspan class="dc" dx="0.5" font-size="17.5" textLength="19.5" lengthAdjust="spacingAndGlyphs">℃</tspan></text><path d="M621.8 962.7H649.9" stroke="#2a40b4" stroke-width="1.1"/><g fill="#2a40b4"><path d="M631.9 960.1h7.8l-3.9 6.8z"/></g><text x="654.2" y="968.7">930 <tspan class="dc" dx="0.5" font-size="17.5" textLength="19.5" lengthAdjust="spacingAndGlyphs">℃</tspan></text></g>
<clipPath id="ccg"><rect x="918.8" y="726.5" width="343.7" height="267.3"/></clipPath><g clip-path="url(#ccg)"><g fill="#161616" stroke="none"><path d="M921.0 985.0 L921.3 972.9 L921.6 959.6 L921.9 947.1 L922.2 935.2 L922.5 923.4 L923.0 909.6 L923.5 896.5 L924.0 885.0 L924.4 872.9 L926.5 861.4 L929.3 853.6 L931.5 848.0 L933.9 840.8 L936.0 829.3 L938.3 820.8 L940.7 814.5 L942.9 809.6 L945.3 805.3 L947.6 801.7 L949.9 799.0 L952.5 796.8 L954.9 795.3 L957.5 794.0 L960.1 792.7 L962.6 791.4 L965.2 790.3 L968.1 789.0 L971.0 787.9 L973.8 787.0 L976.6 786.3 L979.4 785.6 L982.2 784.9 L985.0 784.3 L987.8 783.7 L990.6 783.2 L993.4 782.7 L996.2 782.3 L999.0 782.0 L1001.8 781.8 L1004.6 781.6 L1007.6 781.5 L1010.5 781.3 L1013.1 780.9 L1015.7 780.3 L1018.2 779.1 L1020.5 777.0 L1022.9 773.9 L1025.3 770.6 L1027.8 767.5 L1030.2 765.1 L1032.5 762.9 L1035.0 760.9 L1037.3 759.7 L1040.2 758.5 L1042.4 757.6 L1045.3 756.7 L1048.1 755.9 L1050.9 755.3 L1053.7 754.8 L1055.9 754.5 L1058.8 754.3 L1061.2 754.4 L1063.7 755.2 L1066.3 755.8 L1068.7 755.9 L1071.7 755.8 L1074.7 755.5 L1077.2 755.2 L1079.8 754.3 L1082.3 752.9 L1084.8 752.0 L1087.1 751.5 L1089.7 751.5 L1091.9 751.9 L1094.3 753.0 L1096.5 755.6 L1102.4 774.9 L1105.2 784.7 L1108.3 801.1 L1111.1 818.6 L1114.4 838.3 L1116.6 859.6 L1119.9 880.6 L1122.7 901.8 L1125.8 920.4 L1128.6 935.7 L1131.5 948.9 L1135.2 957.6 L1138.5 958.7 L1141.8 958.1" fill="none" stroke="#161616" stroke-width="1.1"/><rect x="918.4" y="982.4" width="5.2" height="5.2"/><rect x="918.7" y="970.3" width="5.2" height="5.2"/><rect x="919.0" y="957.0" width="5.2" height="5.2"/><rect x="919.3" y="944.5" width="5.2" height="5.2"/><rect x="919.6" y="932.6" width="5.2" height="5.2"/><rect x="919.9" y="920.8" width="5.2" height="5.2"/><rect x="920.4" y="907.0" width="5.2" height="5.2"/><rect x="920.9" y="893.9" width="5.2" height="5.2"/><rect x="921.4" y="882.4" width="5.2" height="5.2"/><rect x="921.8" y="870.3" width="5.2" height="5.2"/><rect x="923.9" y="858.8" width="5.2" height="5.2"/><rect x="926.7" y="851.0" width="5.2" height="5.2"/><rect x="928.9" y="845.4" width="5.2" height="5.2"/><rect x="931.3" y="838.2" width="5.2" height="5.2"/><rect x="933.4" y="826.7" width="5.2" height="5.2"/><rect x="935.7" y="818.2" width="5.2" height="5.2"/><rect x="938.1" y="811.9" width="5.2" height="5.2"/><rect x="940.3" y="807.0" width="5.2" height="5.2"/><rect x="942.7" y="802.7" width="5.2" height="5.2"/><rect x="945.0" y="799.1" width="5.2" height="5.2"/><rect x="947.3" y="796.4" width="5.2" height="5.2"/><rect x="949.9" y="794.2" width="5.2" height="5.2"/><rect x="952.3" y="792.7" width="5.2" height="5.2"/><rect x="954.9" y="791.4" width="5.2" height="5.2"/><rect x="957.5" y="790.1" width="5.2" height="5.2"/><rect x="960.0" y="788.8" width="5.2" height="5.2"/><rect x="962.6" y="787.7" width="5.2" height="5.2"/><rect x="965.5" y="786.4" width="5.2" height="5.2"/><rect x="968.4" y="785.3" width="5.2" height="5.2"/><rect x="971.2" y="784.4" width="5.2" height="5.2"/><rect x="974.0" y="783.7" width="5.2" height="5.2"/><rect x="976.8" y="783.0" width="5.2" height="5.2"/><rect x="979.6" y="782.3" width="5.2" height="5.2"/><rect x="982.4" y="781.7" width="5.2" height="5.2"/><rect x="985.2" y="781.1" width="5.2" height="5.2"/><rect x="988.0" y="780.6" width="5.2" height="5.2"/><rect x="990.8" y="780.1" width="5.2" height="5.2"/><rect x="993.6" y="779.7" width="5.2" height="5.2"/><rect x="996.4" y="779.4" width="5.2" height="5.2"/><rect x="999.2" y="779.2" width="5.2" height="5.2"/><rect x="1002.0" y="779.0" width="5.2" height="5.2"/><rect x="1005.0" y="778.9" width="5.2" height="5.2"/><rect x="1007.9" y="778.7" width="5.2" height="5.2"/><rect x="1010.5" y="778.3" width="5.2" height="5.2"/><rect x="1013.1" y="777.7" width="5.2" height="5.2"/><rect x="1015.6" y="776.5" width="5.2" height="5.2"/><rect x="1017.9" y="774.4" width="5.2" height="5.2"/><rect x="1020.3" y="771.3" width="5.2" height="5.2"/><rect x="1022.7" y="768.0" width="5.2" height="5.2"/><rect x="1025.2" y="764.9" width="5.2" height="5.2"/><rect x="1027.6" y="762.5" width="5.2" height="5.2"/><rect x="1029.9" y="760.3" width="5.2" height="5.2"/><rect x="1032.4" y="758.3" width="5.2" height="5.2"/><rect x="1034.7" y="757.1" width="5.2" height="5.2"/><rect x="1037.6" y="755.9" width="5.2" height="5.2"/><rect x="1039.8" y="755.0" width="5.2" height="5.2"/><rect x="1042.7" y="754.1" width="5.2" height="5.2"/><rect x="1045.5" y="753.3" width="5.2" height="5.2"/><rect x="1048.3" y="752.7" width="5.2" height="5.2"/><rect x="1051.1" y="752.2" width="5.2" height="5.2"/><rect x="1053.3" y="751.9" width="5.2" height="5.2"/><rect x="1056.2" y="751.7" width="5.2" height="5.2"/><rect x="1058.6" y="751.8" width="5.2" height="5.2"/><rect x="1061.1" y="752.6" width="5.2" height="5.2"/><rect x="1063.7" y="753.2" width="5.2" height="5.2"/><rect x="1066.1" y="753.3" width="5.2" height="5.2"/><rect x="1069.1" y="753.2" width="5.2" height="5.2"/><rect x="1072.1" y="752.9" width="5.2" height="5.2"/><rect x="1074.6" y="752.6" width="5.2" height="5.2"/><rect x="1077.2" y="751.7" width="5.2" height="5.2"/><rect x="1079.7" y="750.3" width="5.2" height="5.2"/><rect x="1082.2" y="749.4" width="5.2" height="5.2"/><rect x="1084.5" y="748.9" width="5.2" height="5.2"/><rect x="1087.1" y="748.9" width="5.2" height="5.2"/><rect x="1089.3" y="749.3" width="5.2" height="5.2"/><rect x="1091.7" y="750.4" width="5.2" height="5.2"/><rect x="1093.9" y="753.0" width="5.2" height="5.2"/><rect x="1099.8" y="772.3" width="5.2" height="5.2"/><rect x="1102.6" y="782.1" width="5.2" height="5.2"/><rect x="1105.7" y="798.5" width="5.2" height="5.2"/><rect x="1108.5" y="816.0" width="5.2" height="5.2"/><rect x="1111.8" y="835.7" width="5.2" height="5.2"/><rect x="1114.0" y="857.0" width="5.2" height="5.2"/><rect x="1117.3" y="878.0" width="5.2" height="5.2"/><rect x="1120.1" y="899.2" width="5.2" height="5.2"/><rect x="1123.2" y="917.8" width="5.2" height="5.2"/><rect x="1126.0" y="933.1" width="5.2" height="5.2"/><rect x="1128.9" y="946.3" width="5.2" height="5.2"/><rect x="1132.6" y="955.0" width="5.2" height="5.2"/><rect x="1135.9" y="956.1" width="5.2" height="5.2"/><rect x="1139.2" y="955.5" width="5.2" height="5.2"/></g>
<g fill="#ee1c2e" stroke="none"><path d="M919.3 985.0 L919.4 978.7 L919.7 966.4 L920.0 953.0 L920.3 941.1 L920.7 929.2 L921.1 915.0 L921.6 901.6 L922.1 889.4 L922.9 876.5 L923.8 865.0 L924.8 852.2 L925.8 838.9 L927.4 827.3 L929.7 817.0 L931.9 807.3 L934.3 801.6 L936.7 797.4 L939.1 793.8 L941.5 791.4 L943.9 789.3 L946.1 787.2 L948.6 785.1 L950.8 783.6 L953.2 782.2 L955.6 780.9 L957.9 780.0 L960.2 779.4 L962.6 778.8 L965.3 778.4 L968.2 778.2 L971.0 778.1 L973.8 778.4 L976.6 778.8 L979.4 778.8 L982.2 778.2 L985.0 777.1 L987.8 776.0 L990.7 775.0 L993.7 774.0 L996.2 773.2 L998.8 772.9 L1001.4 773.1 L1003.7 773.8 L1006.1 774.8 L1008.4 775.7 L1011.0 777.0 L1013.7 777.4 L1016.4 777.2 L1019.3 776.6 L1022.2 775.8 L1025.0 775.0 L1027.8 774.0 L1030.6 773.0 L1032.9 772.2 L1035.2 771.5 L1037.8 770.6 L1040.5 769.3 L1043.2 769.1 L1045.6 768.9 L1048.0 768.9 L1050.2 769.1 L1053.1 769.8 L1056.1 770.4 L1059.0 770.5 L1061.9 770.2 L1064.8 769.7 L1067.7 769.0 L1070.6 767.8 L1073.6 766.6 L1076.5 765.8 L1078.8 765.4 L1081.0 765.1 L1083.8 765.0 L1086.2 765.1 L1088.9 765.6 L1091.2 766.7 L1093.7 769.2 L1098.0 779.2 L1100.8 789.1 L1103.9 801.1 L1106.8 816.5 L1109.6 834.0 L1112.7 852.6 L1115.5 872.3 L1118.1 892.0 L1121.0 909.5 L1124.3 923.7 L1127.6 935.7 L1130.8 945.6 L1134.6 952.2 L1138.5 953.3 L1141.1 951.1" fill="none" stroke="#ee1c2e" stroke-width="1.1"/><circle cx="919.3" cy="985.0" r="3.4"/><circle cx="919.4" cy="978.7" r="3.4"/><circle cx="919.7" cy="966.4" r="3.4"/><circle cx="920.0" cy="953.0" r="3.4"/><circle cx="920.3" cy="941.1" r="3.4"/><circle cx="920.7" cy="929.2" r="3.4"/><circle cx="921.1" cy="915.0" r="3.4"/><circle cx="921.6" cy="901.6" r="3.4"/><circle cx="922.1" cy="889.4" r="3.4"/><circle cx="922.9" cy="876.5" r="3.4"/><circle cx="923.8" cy="865.0" r="3.4"/><circle cx="924.8" cy="852.2" r="3.4"/><circle cx="925.8" cy="838.9" r="3.4"/><circle cx="927.4" cy="827.3" r="3.4"/><circle cx="929.7" cy="817.0" r="3.4"/><circle cx="931.9" cy="807.3" r="3.4"/><circle cx="934.3" cy="801.6" r="3.4"/><circle cx="936.7" cy="797.4" r="3.4"/><circle cx="939.1" cy="793.8" r="3.4"/><circle cx="941.5" cy="791.4" r="3.4"/><circle cx="943.9" cy="789.3" r="3.4"/><circle cx="946.1" cy="787.2" r="3.4"/><circle cx="948.6" cy="785.1" r="3.4"/><circle cx="950.8" cy="783.6" r="3.4"/><circle cx="953.2" cy="782.2" r="3.4"/><circle cx="955.6" cy="780.9" r="3.4"/><circle cx="957.9" cy="780.0" r="3.4"/><circle cx="960.2" cy="779.4" r="3.4"/><circle cx="962.6" cy="778.8" r="3.4"/><circle cx="965.3" cy="778.4" r="3.4"/><circle cx="968.2" cy="778.2" r="3.4"/><circle cx="971.0" cy="778.1" r="3.4"/><circle cx="973.8" cy="778.4" r="3.4"/><circle cx="976.6" cy="778.8" r="3.4"/><circle cx="979.4" cy="778.8" r="3.4"/><circle cx="982.2" cy="778.2" r="3.4"/><circle cx="985.0" cy="777.1" r="3.4"/><circle cx="987.8" cy="776.0" r="3.4"/><circle cx="990.7" cy="775.0" r="3.4"/><circle cx="993.7" cy="774.0" r="3.4"/><circle cx="996.2" cy="773.2" r="3.4"/><circle cx="998.8" cy="772.9" r="3.4"/><circle cx="1001.4" cy="773.1" r="3.4"/><circle cx="1003.7" cy="773.8" r="3.4"/><circle cx="1006.1" cy="774.8" r="3.4"/><circle cx="1008.4" cy="775.7" r="3.4"/><circle cx="1011.0" cy="777.0" r="3.4"/><circle cx="1013.7" cy="777.4" r="3.4"/><circle cx="1016.4" cy="777.2" r="3.4"/><circle cx="1019.3" cy="776.6" r="3.4"/><circle cx="1022.2" cy="775.8" r="3.4"/><circle cx="1025.0" cy="775.0" r="3.4"/><circle cx="1027.8" cy="774.0" r="3.4"/><circle cx="1030.6" cy="773.0" r="3.4"/><circle cx="1032.9" cy="772.2" r="3.4"/><circle cx="1035.2" cy="771.5" r="3.4"/><circle cx="1037.8" cy="770.6" r="3.4"/><circle cx="1040.5" cy="769.3" r="3.4"/><circle cx="1043.2" cy="769.1" r="3.4"/><circle cx="1045.6" cy="768.9" r="3.4"/><circle cx="1048.0" cy="768.9" r="3.4"/><circle cx="1050.2" cy="769.1" r="3.4"/><circle cx="1053.1" cy="769.8" r="3.4"/><circle cx="1056.1" cy="770.4" r="3.4"/><circle cx="1059.0" cy="770.5" r="3.4"/><circle cx="1061.9" cy="770.2" r="3.4"/><circle cx="1064.8" cy="769.7" r="3.4"/><circle cx="1067.7" cy="769.0" r="3.4"/><circle cx="1070.6" cy="767.8" r="3.4"/><circle cx="1073.6" cy="766.6" r="3.4"/><circle cx="1076.5" cy="765.8" r="3.4"/><circle cx="1078.8" cy="765.4" r="3.4"/><circle cx="1081.0" cy="765.1" r="3.4"/><circle cx="1083.8" cy="765.0" r="3.4"/><circle cx="1086.2" cy="765.1" r="3.4"/><circle cx="1088.9" cy="765.6" r="3.4"/><circle cx="1091.2" cy="766.7" r="3.4"/><circle cx="1093.7" cy="769.2" r="3.4"/><circle cx="1098.0" cy="779.2" r="3.4"/><circle cx="1100.8" cy="789.1" r="3.4"/><circle cx="1103.9" cy="801.1" r="3.4"/><circle cx="1106.8" cy="816.5" r="3.4"/><circle cx="1109.6" cy="834.0" r="3.4"/><circle cx="1112.7" cy="852.6" r="3.4"/><circle cx="1115.5" cy="872.3" r="3.4"/><circle cx="1118.1" cy="892.0" r="3.4"/><circle cx="1121.0" cy="909.5" r="3.4"/><circle cx="1124.3" cy="923.7" r="3.4"/><circle cx="1127.6" cy="935.7" r="3.4"/><circle cx="1130.8" cy="945.6" r="3.4"/><circle cx="1134.6" cy="952.2" r="3.4"/><circle cx="1138.5" cy="953.3" r="3.4"/><circle cx="1141.1" cy="951.1" r="3.4"/></g>
<g fill="#4db82f" stroke="none"><path d="M920.5 985.0 L920.7 975.9 L921.0 963.0 L921.3 950.0 L921.6 938.1 L921.9 926.3 L922.4 912.3 L922.9 899.1 L923.4 887.1 L923.9 874.6 L925.4 863.1 L928.0 852.9 L930.3 845.1 L932.5 834.6 L934.8 823.2 L937.0 813.8 L939.4 807.1 L941.8 802.6 L944.1 799.4 L946.5 796.6 L949.1 793.8 L951.3 791.4 L953.7 789.1 L956.5 786.8 L958.8 785.1 L961.2 783.7 L963.5 782.8 L965.8 782.2 L968.2 781.6 L970.9 781.1 L973.8 780.7 L976.6 780.2 L979.4 779.8 L982.2 779.4 L985.0 778.8 L987.8 778.2 L990.6 777.5 L993.4 776.7 L996.2 776.0 L999.0 775.2 L1001.8 774.6 L1004.6 774.4 L1007.5 774.3 L1010.3 773.9 L1013.1 773.0 L1015.9 771.7 L1018.7 770.4 L1021.5 769.3 L1024.3 768.1 L1027.1 766.9 L1030.0 765.7 L1032.2 764.8 L1034.9 763.7 L1037.2 762.2 L1040.0 760.6 L1042.7 760.0 L1046.0 759.4 L1048.4 759.0 L1050.8 758.7 L1053.1 758.5 L1056.4 758.2 L1059.7 758.1 L1063.0 758.1 L1066.3 758.0 L1068.5 757.9 L1070.7 757.8 L1073.0 757.7 L1075.2 757.5 L1078.4 757.4 L1081.4 757.3 L1084.3 757.2 L1087.0 757.2 L1089.6 757.3 L1091.8 757.6 L1094.5 758.1 L1096.9 759.0 L1099.1 760.3 L1101.7 763.0 L1108.9 776.0 L1112.2 785.8 L1114.9 797.9 L1117.7 812.1 L1120.5 828.5 L1122.7 847.1 L1125.8 865.7 L1128.6 884.3 L1131.5 901.8 L1134.6 917.1 L1138.1 930.3 L1141.1 941.2 L1145.1 947.8 L1148.3 949.3 L1151.6 949.3 L1154.9 948.9" fill="none" stroke="#4db82f" stroke-width="1.1"/><path d="M916.6 987.6h7.8l-3.9 -6.8z"/><path d="M916.8 978.5h7.8l-3.9 -6.8z"/><path d="M917.1 965.6h7.8l-3.9 -6.8z"/><path d="M917.4 952.6h7.8l-3.9 -6.8z"/><path d="M917.7 940.7h7.8l-3.9 -6.8z"/><path d="M918.0 928.9h7.8l-3.9 -6.8z"/><path d="M918.5 914.9h7.8l-3.9 -6.8z"/><path d="M919.0 901.7h7.8l-3.9 -6.8z"/><path d="M919.5 889.7h7.8l-3.9 -6.8z"/><path d="M920.0 877.2h7.8l-3.9 -6.8z"/><path d="M921.5 865.7h7.8l-3.9 -6.8z"/><path d="M924.1 855.5h7.8l-3.9 -6.8z"/><path d="M926.4 847.7h7.8l-3.9 -6.8z"/><path d="M928.6 837.2h7.8l-3.9 -6.8z"/><path d="M930.9 825.8h7.8l-3.9 -6.8z"/><path d="M933.1 816.4h7.8l-3.9 -6.8z"/><path d="M935.5 809.7h7.8l-3.9 -6.8z"/><path d="M937.9 805.2h7.8l-3.9 -6.8z"/><path d="M940.2 802.0h7.8l-3.9 -6.8z"/><path d="M942.6 799.2h7.8l-3.9 -6.8z"/><path d="M945.2 796.4h7.8l-3.9 -6.8z"/><path d="M947.4 794.0h7.8l-3.9 -6.8z"/><path d="M949.8 791.7h7.8l-3.9 -6.8z"/><path d="M952.6 789.4h7.8l-3.9 -6.8z"/><path d="M954.9 787.7h7.8l-3.9 -6.8z"/><path d="M957.3 786.3h7.8l-3.9 -6.8z"/><path d="M959.6 785.4h7.8l-3.9 -6.8z"/><path d="M961.9 784.8h7.8l-3.9 -6.8z"/><path d="M964.3 784.2h7.8l-3.9 -6.8z"/><path d="M967.0 783.7h7.8l-3.9 -6.8z"/><path d="M969.9 783.3h7.8l-3.9 -6.8z"/><path d="M972.7 782.8h7.8l-3.9 -6.8z"/><path d="M975.5 782.4h7.8l-3.9 -6.8z"/><path d="M978.3 782.0h7.8l-3.9 -6.8z"/><path d="M981.1 781.4h7.8l-3.9 -6.8z"/><path d="M983.9 780.8h7.8l-3.9 -6.8z"/><path d="M986.7 780.1h7.8l-3.9 -6.8z"/><path d="M989.5 779.3h7.8l-3.9 -6.8z"/><path d="M992.3 778.6h7.8l-3.9 -6.8z"/><path d="M995.1 777.8h7.8l-3.9 -6.8z"/><path d="M997.9 777.2h7.8l-3.9 -6.8z"/><path d="M1000.7 777.0h7.8l-3.9 -6.8z"/><path d="M1003.6 776.9h7.8l-3.9 -6.8z"/><path d="M1006.4 776.5h7.8l-3.9 -6.8z"/><path d="M1009.2 775.6h7.8l-3.9 -6.8z"/><path d="M1012.0 774.3h7.8l-3.9 -6.8z"/><path d="M1014.8 773.0h7.8l-3.9 -6.8z"/><path d="M1017.6 771.9h7.8l-3.9 -6.8z"/><path d="M1020.4 770.7h7.8l-3.9 -6.8z"/><path d="M1023.2 769.5h7.8l-3.9 -6.8z"/><path d="M1026.1 768.3h7.8l-3.9 -6.8z"/><path d="M1028.3 767.4h7.8l-3.9 -6.8z"/><path d="M1031.0 766.3h7.8l-3.9 -6.8z"/><path d="M1033.3 764.8h7.8l-3.9 -6.8z"/><path d="M1036.1 763.2h7.8l-3.9 -6.8z"/><path d="M1038.8 762.6h7.8l-3.9 -6.8z"/><path d="M1042.1 762.0h7.8l-3.9 -6.8z"/><path d="M1044.5 761.6h7.8l-3.9 -6.8z"/><path d="M1046.9 761.3h7.8l-3.9 -6.8z"/><path d="M1049.2 761.1h7.8l-3.9 -6.8z"/><path d="M1052.5 760.8h7.8l-3.9 -6.8z"/><path d="M1055.8 760.7h7.8l-3.9 -6.8z"/><path d="M1059.1 760.7h7.8l-3.9 -6.8z"/><path d="M1062.4 760.6h7.8l-3.9 -6.8z"/><path d="M1064.6 760.5h7.8l-3.9 -6.8z"/><path d="M1066.8 760.4h7.8l-3.9 -6.8z"/><path d="M1069.1 760.3h7.8l-3.9 -6.8z"/><path d="M1071.3 760.1h7.8l-3.9 -6.8z"/><path d="M1074.5 760.0h7.8l-3.9 -6.8z"/><path d="M1077.5 759.9h7.8l-3.9 -6.8z"/><path d="M1080.4 759.8h7.8l-3.9 -6.8z"/><path d="M1083.1 759.8h7.8l-3.9 -6.8z"/><path d="M1085.7 759.9h7.8l-3.9 -6.8z"/><path d="M1087.9 760.2h7.8l-3.9 -6.8z"/><path d="M1090.6 760.7h7.8l-3.9 -6.8z"/><path d="M1093.0 761.6h7.8l-3.9 -6.8z"/><path d="M1095.2 762.9h7.8l-3.9 -6.8z"/><path d="M1097.8 765.6h7.8l-3.9 -6.8z"/><path d="M1105.0 778.6h7.8l-3.9 -6.8z"/><path d="M1108.3 788.4h7.8l-3.9 -6.8z"/><path d="M1111.0 800.5h7.8l-3.9 -6.8z"/><path d="M1113.8 814.7h7.8l-3.9 -6.8z"/><path d="M1116.6 831.1h7.8l-3.9 -6.8z"/><path d="M1118.8 849.7h7.8l-3.9 -6.8z"/><path d="M1121.9 868.3h7.8l-3.9 -6.8z"/><path d="M1124.7 886.9h7.8l-3.9 -6.8z"/><path d="M1127.6 904.4h7.8l-3.9 -6.8z"/><path d="M1130.7 919.7h7.8l-3.9 -6.8z"/><path d="M1134.2 932.9h7.8l-3.9 -6.8z"/><path d="M1137.2 943.8h7.8l-3.9 -6.8z"/><path d="M1141.2 950.4h7.8l-3.9 -6.8z"/><path d="M1144.4 951.9h7.8l-3.9 -6.8z"/><path d="M1147.7 951.9h7.8l-3.9 -6.8z"/><path d="M1151.0 951.5h7.8l-3.9 -6.8z"/></g>
<g fill="#2a40b4" stroke="none"><path d="M919.8 985.0 L919.9 981.2 L920.1 969.7 L920.4 956.2 L920.8 944.1 L921.1 932.2 L921.4 920.5 L921.9 906.9 L922.4 894.1 L923.0 881.2 L923.9 868.6 L925.7 856.3 L927.9 844.8 L930.1 832.8 L932.1 820.7 L934.3 811.1 L936.7 802.9 L939.1 795.0 L941.3 791.2 L943.9 788.6 L946.4 786.6 L948.7 784.1 L951.1 780.8 L953.5 776.7 L956.0 772.7 L958.3 769.7 L960.7 767.8 L963.0 766.8 L965.4 766.2 L967.7 765.9 L970.0 765.9 L972.7 766.1 L975.1 766.5 L977.5 766.9 L980.0 767.2 L982.3 767.2 L984.6 766.5 L986.9 764.8 L989.2 762.7 L991.6 760.4 L993.9 758.0 L996.2 756.0 L998.6 754.2 L1000.9 752.6 L1003.2 751.2 L1005.6 749.8 L1008.0 747.9 L1010.4 745.8 L1012.8 743.3 L1015.1 740.3 L1017.6 738.2 L1020.0 736.8 L1022.4 735.8 L1024.7 735.3 L1027.1 735.1 L1029.4 735.2 L1031.7 735.5 L1034.1 736.2 L1036.5 737.2 L1039.1 738.7 L1041.6 740.8 L1043.8 743.4 L1046.0 747.9 L1047.7 759.5 L1050.5 770.5 L1053.1 786.9 L1055.3 806.6 L1057.5 828.5 L1060.1 852.6 L1063.0 878.8 L1065.2 904.0 L1068.0 927.0 L1070.6 945.6 L1073.3 958.7 L1076.1 965.3 L1079.0 967.5 L1081.6 967.5" fill="none" stroke="#2a40b4" stroke-width="1.1"/><path d="M915.9 982.4h7.8l-3.9 6.8z"/><path d="M916.0 978.6h7.8l-3.9 6.8z"/><path d="M916.2 967.1h7.8l-3.9 6.8z"/><path d="M916.5 953.6h7.8l-3.9 6.8z"/><path d="M916.9 941.5h7.8l-3.9 6.8z"/><path d="M917.2 929.6h7.8l-3.9 6.8z"/><path d="M917.5 917.9h7.8l-3.9 6.8z"/><path d="M918.0 904.3h7.8l-3.9 6.8z"/><path d="M918.5 891.5h7.8l-3.9 6.8z"/><path d="M919.1 878.6h7.8l-3.9 6.8z"/><path d="M920.0 866.0h7.8l-3.9 6.8z"/><path d="M921.8 853.7h7.8l-3.9 6.8z"/><path d="M924.0 842.2h7.8l-3.9 6.8z"/><path d="M926.2 830.2h7.8l-3.9 6.8z"/><path d="M928.2 818.1h7.8l-3.9 6.8z"/><path d="M930.4 808.5h7.8l-3.9 6.8z"/><path d="M932.8 800.3h7.8l-3.9 6.8z"/><path d="M935.2 792.4h7.8l-3.9 6.8z"/><path d="M937.4 788.6h7.8l-3.9 6.8z"/><path d="M940.0 786.0h7.8l-3.9 6.8z"/><path d="M942.5 784.0h7.8l-3.9 6.8z"/><path d="M944.8 781.5h7.8l-3.9 6.8z"/><path d="M947.2 778.2h7.8l-3.9 6.8z"/><path d="M949.6 774.1h7.8l-3.9 6.8z"/><path d="M952.1 770.1h7.8l-3.9 6.8z"/><path d="M954.4 767.1h7.8l-3.9 6.8z"/><path d="M956.8 765.2h7.8l-3.9 6.8z"/><path d="M959.1 764.2h7.8l-3.9 6.8z"/><path d="M961.5 763.6h7.8l-3.9 6.8z"/><path d="M963.8 763.3h7.8l-3.9 6.8z"/><path d="M966.1 763.3h7.8l-3.9 6.8z"/><path d="M968.8 763.5h7.8l-3.9 6.8z"/><path d="M971.2 763.9h7.8l-3.9 6.8z"/><path d="M973.6 764.3h7.8l-3.9 6.8z"/><path d="M976.1 764.6h7.8l-3.9 6.8z"/><path d="M978.4 764.6h7.8l-3.9 6.8z"/><path d="M980.7 763.9h7.8l-3.9 6.8z"/><path d="M983.0 762.2h7.8l-3.9 6.8z"/><path d="M985.3 760.1h7.8l-3.9 6.8z"/><path d="M987.7 757.8h7.8l-3.9 6.8z"/><path d="M990.0 755.4h7.8l-3.9 6.8z"/><path d="M992.3 753.4h7.8l-3.9 6.8z"/><path d="M994.7 751.6h7.8l-3.9 6.8z"/><path d="M997.0 750.0h7.8l-3.9 6.8z"/><path d="M999.3 748.6h7.8l-3.9 6.8z"/><path d="M1001.7 747.2h7.8l-3.9 6.8z"/><path d="M1004.1 745.3h7.8l-3.9 6.8z"/><path d="M1006.5 743.2h7.8l-3.9 6.8z"/><path d="M1008.9 740.7h7.8l-3.9 6.8z"/><path d="M1011.2 737.7h7.8l-3.9 6.8z"/><path d="M1013.7 735.6h7.8l-3.9 6.8z"/><path d="M1016.1 734.2h7.8l-3.9 6.8z"/><path d="M1018.5 733.2h7.8l-3.9 6.8z"/><path d="M1020.8 732.7h7.8l-3.9 6.8z"/><path d="M1023.2 732.5h7.8l-3.9 6.8z"/><path d="M1025.5 732.6h7.8l-3.9 6.8z"/><path d="M1027.8 732.9h7.8l-3.9 6.8z"/><path d="M1030.2 733.6h7.8l-3.9 6.8z"/><path d="M1032.6 734.6h7.8l-3.9 6.8z"/><path d="M1035.2 736.1h7.8l-3.9 6.8z"/><path d="M1037.7 738.2h7.8l-3.9 6.8z"/><path d="M1039.9 740.8h7.8l-3.9 6.8z"/><path d="M1042.1 745.3h7.8l-3.9 6.8z"/><path d="M1043.8 756.9h7.8l-3.9 6.8z"/><path d="M1046.6 767.9h7.8l-3.9 6.8z"/><path d="M1049.2 784.3h7.8l-3.9 6.8z"/><path d="M1051.4 804.0h7.8l-3.9 6.8z"/><path d="M1053.6 825.9h7.8l-3.9 6.8z"/><path d="M1056.2 850.0h7.8l-3.9 6.8z"/><path d="M1059.1 876.2h7.8l-3.9 6.8z"/><path d="M1061.3 901.4h7.8l-3.9 6.8z"/><path d="M1064.1 924.4h7.8l-3.9 6.8z"/><path d="M1066.7 943.0h7.8l-3.9 6.8z"/><path d="M1069.4 956.1h7.8l-3.9 6.8z"/><path d="M1072.2 962.7h7.8l-3.9 6.8z"/><path d="M1075.1 964.9h7.8l-3.9 6.8z"/><path d="M1077.7 964.9h7.8l-3.9 6.8z"/></g>
</g><rect x="919.3" y="726.5" width="342.7" height="267.3" fill="none" stroke="#0c0c0c" stroke-width="2.1"/>
<path d="M961.6 993.8v-3.0 M1004.5 993.8v-4.2 M1047.4 993.8v-3.0 M1090.3 993.8v-4.2 M1133.2 993.8v-3.0 M1176.1 993.8v-4.2 M1219.0 993.8v-3.0 M919.3 756.0h4.2 M919.3 785.9h3.0 M919.3 815.8h4.2 M919.3 845.7h3.0 M919.3 875.6h4.2 M919.3 905.5h3.0 M919.3 935.4h4.2 M919.3 965.3h3.0 " stroke="#0c0c0c" stroke-width="1.3" fill="none"/>
<g font-size="18.6" fill="#111" stroke="#111" stroke-width="0.4"><text x="911.1" y="759.2" text-anchor="end">1600</text><text x="911.1" y="819.7" text-anchor="end">1200</text><text x="911.1" y="880.1" text-anchor="end">800</text><text x="911.1" y="940.6" text-anchor="end">400</text><text x="908.3" y="1016.1" text-anchor="middle">0</text><text x="1004.5" y="1016.1" text-anchor="middle">0.1</text><text x="1090.3" y="1016.1" text-anchor="middle">0.2</text><text x="1176.1" y="1016.1" text-anchor="middle">0.3</text><text x="1254.0" y="1016.1" text-anchor="middle">0.4</text><text x="1086.0" y="1046.4" text-anchor="middle" font-size="19.4">True strain</text><text transform="translate(859.9 866) rotate(-90)" text-anchor="middle" font-size="19.5">True stress/MPa</text><text x="1094.3" y="1077.2" text-anchor="middle" font-size="21.5" stroke-width="0.15">(g)</text><text x="968.5" y="980.8" font-size="19.3">3.5×10<tspan dy="-6" dx="0.6" font-size="13.6">3</tspan><tspan dy="6" dx="2.2"> s</tspan><tspan dy="-6" dx="0.8" font-size="13.6">-1</tspan></text><path d="M1162.3 890.1H1191.2" stroke="#161616" stroke-width="1.1"/><g fill="#161616"><rect x="1174.1" y="887.5" width="5.2" height="5.2"/></g><text x="1194.7" y="896.1">840 <tspan class="dc" dx="0.5" font-size="17.5" textLength="19.5" lengthAdjust="spacingAndGlyphs">℃</tspan></text><path d="M1162.3 915.9H1191.2" stroke="#ee1c2e" stroke-width="1.1"/><g fill="#ee1c2e"><circle cx="1176.7" cy="915.9" r="3.4"/></g><text x="1194.7" y="921.9">870 <tspan class="dc" dx="0.5" font-size="17.5" textLength="19.5" lengthAdjust="spacingAndGlyphs">℃</tspan></text><path d="M1162.3 941.7H1191.2" stroke="#4db82f" stroke-width="1.1"/><g fill="#4db82f"><path d="M1172.8 944.3h7.8l-3.9 -6.8z"/></g><text x="1194.7" y="947.7">900 <tspan class="dc" dx="0.5" font-size="17.5" textLength="19.5" lengthAdjust="spacingAndGlyphs">℃</tspan></text><path d="M1162.3 967.6H1191.2" stroke="#2a40b4" stroke-width="1.1"/><g fill="#2a40b4"><path d="M1172.8 965.0h7.8l-3.9 6.8z"/></g><text x="1194.7" y="973.6">930 <tspan class="dc" dx="0.5" font-size="17.5" textLength="19.5" lengthAdjust="spacingAndGlyphs">℃</tspan></text></g>
<text y="1138.7" font-size="19.6" fill="#141414" id="cap0"><tspan x="293.50" y="1138.7" letter-spacing="1.620" id="cp_0_0">图</tspan> <tspan x="319.50" y="1138.7" letter-spacing="1.800" id="cp_0_1">13</tspan> <tspan x="362.00" y="1138.7" letter-spacing="-0.300" id="cp_0_2">TC4</tspan> <tspan x="401.50" y="1138.7" letter-spacing="1.706" id="cp_0_3">钛合金不同温度下</tspan> <tspan x="576.50" font-style="italic" y="1138.7" letter-spacing="0.300" id="cp_0_4">RD-TD</tspan> <tspan x="642.00" y="1138.7" letter-spacing="1.687" id="cp_0_5">面显微组织及动态应力</tspan> <tspan x="855.00" y="1135.5" textLength="9.7" lengthAdjust="spacingAndGlyphs" id="cp_0_6">-</tspan> <tspan x="865.50" y="1138.7" letter-spacing="2.220" id="cp_0_7">应变曲线</tspan> <tspan x="951.50" font-size="13" y="1130.1" letter-spacing="2.033" id="cp_0_8">[45]</tspan></text>
<text y="1173.6" font-size="19.6" fill="#141414" id="cap1"><tspan x="213.40" class="fp" font-size="21.2" y="1176.6" id="cp_1_0">（</tspan> <tspan x="238.00" y="1173.6" textLength="10.35" lengthAdjust="spacingAndGlyphs" id="cp_1_1">a</tspan> <tspan x="252.50" class="fp" font-size="21.2" y="1176.6" id="cp_1_2">）</tspan> <tspan x="271.50" y="1173.6" letter-spacing="0.200" id="cp_1_3">840</tspan> <tspan x="308.00" class="dc" textLength="21.3" lengthAdjust="spacingAndGlyphs" y="1173.6" id="cp_1_4">℃</tspan> <tspan x="349.60" class="fp" font-size="21.2" y="1176.6" id="cp_1_5">（</tspan> <tspan x="375.50" y="1173.6" textLength="11.56" lengthAdjust="spacingAndGlyphs" id="cp_1_6">b</tspan> <tspan x="389.50" class="fp" font-size="21.2" y="1176.6" id="cp_1_7">）</tspan> <tspan x="408.20" y="1173.6" letter-spacing="0.600" id="cp_1_8">870</tspan> <tspan x="446.00" class="dc" textLength="21.3" lengthAdjust="spacingAndGlyphs" y="1173.6" id="cp_1_9">℃</tspan> <tspan x="488.40" class="fp" font-size="21.2" y="1176.6" id="cp_1_10">（</tspan> <tspan x="513.00" y="1173.6" textLength="10.27" lengthAdjust="spacingAndGlyphs" id="cp_1_11">c</tspan> <tspan x="525.50" class="fp" font-size="21.2" y="1176.6" id="cp_1_12">）</tspan> <tspan x="544.20" y="1173.6" letter-spacing="0.900" id="cp_1_13">900</tspan> <tspan x="582.50" class="dc" textLength="21.3" lengthAdjust="spacingAndGlyphs" y="1173.6" id="cp_1_14">℃</tspan> <tspan x="624.60" class="fp" font-size="21.2" y="1176.6" id="cp_1_15">（</tspan> <tspan x="649.00" y="1173.6" textLength="12.74" lengthAdjust="spacingAndGlyphs" id="cp_1_16">d</tspan> <tspan x="663.80" class="fp" font-size="21.2" y="1176.6" id="cp_1_17">）</tspan> <tspan x="683.50" y="1173.6" letter-spacing="0.800" id="cp_1_18">930</tspan> <tspan x="721.00" class="dc" textLength="21.3" lengthAdjust="spacingAndGlyphs" y="1173.6" id="cp_1_19">℃</tspan> <tspan x="762.40" class="fp" font-size="21.2" y="1176.6" id="cp_1_20">（</tspan> <tspan x="787.50" y="1173.6" textLength="10.18" lengthAdjust="spacingAndGlyphs" id="cp_1_21">e</tspan> <tspan x="799.50" class="fp" font-size="21.2" y="1176.6" id="cp_1_22">）</tspan> <tspan x="820.00" font-style="italic" y="1173.6" letter-spacing="0.200" id="cp_1_23">ND</tspan> <tspan x="868.50" class="fp" font-size="21.2" y="1176.6" id="cp_1_24">（</tspan> <tspan x="892.00" y="1173.6" textLength="9.47" lengthAdjust="spacingAndGlyphs" id="cp_1_25">f</tspan> <tspan x="903.50" class="fp" font-size="21.2" y="1176.6" id="cp_1_26">）</tspan> <tspan x="922.00" font-style="italic" y="1173.6" letter-spacing="1.200" id="cp_1_27">RD</tspan> <tspan x="969.40" class="fp" font-size="21.2" y="1176.6" id="cp_1_28">（</tspan> <tspan x="993.50" y="1173.6" textLength="10.88" lengthAdjust="spacingAndGlyphs" id="cp_1_29">g</tspan> <tspan x="1006.80" class="fp" font-size="21.2" y="1176.6" id="cp_1_30">）</tspan> <tspan x="1026.50" font-style="italic" y="1173.6" letter-spacing="0.400" id="cp_1_31">TD</tspan></text>
<text y="1212.9" font-size="19.6" fill="#141414" id="cap2"><tspan x="69.00" y="1212.9" letter-spacing="-0.200" id="cp_2_0">Fig.</tspan> <tspan x="105.50" y="1212.9" letter-spacing="0.600" id="cp_2_1">13</tspan> <tspan x="148.50" y="1212.9" letter-spacing="-0.046" id="cp_2_2">Microstructure</tspan> <tspan x="273.50" y="1212.9" letter-spacing="-1.000" id="cp_2_3">on</tspan> <tspan x="300.50" font-style="italic" y="1212.9" letter-spacing="0.125" id="cp_2_4">RD-TD</tspan> <tspan x="366.00" y="1212.9" letter-spacing="0.300" id="cp_2_5">surface</tspan> <tspan x="431.20" y="1212.9" letter-spacing="0.700" id="cp_2_6">and</tspan> <tspan x="469.00" y="1212.9" letter-spacing="0.300" id="cp_2_7">dynamic</tspan> <tspan x="545.50" y="1212.9" letter-spacing="0.133" id="cp_2_8">true</tspan> <tspan x="584.00" y="1212.9" letter-spacing="0.480" id="cp_2_9">stress-true</tspan> <tspan x="675.20" y="1212.9" letter-spacing="0.440" id="cp_2_10">strain</tspan> <tspan x="728.20" y="1212.9" letter-spacing="0.040" id="cp_2_11">curves</tspan> <tspan x="787.20" y="1212.9" letter-spacing="1.000" id="cp_2_12">of</tspan> <tspan x="811.00" y="1212.9" letter-spacing="-0.700" id="cp_2_13">TC4</tspan> <tspan x="853.00" y="1212.9" letter-spacing="0.143" id="cp_2_14">titanium</tspan> <tspan x="927.50" y="1212.9" letter-spacing="-0.450" id="cp_2_15">alloy</tspan> <tspan x="973.50" y="1212.9" letter-spacing="-0.200" id="cp_2_16">at</tspan> <tspan x="995.50" y="1212.9" letter-spacing="-0.000" id="cp_2_17">different</tspan> <tspan x="1071.00" y="1212.9" letter-spacing="0.273" id="cp_2_18">temperatures</tspan> <tspan x="1177.50" font-size="13" y="1204.3" letter-spacing="2.400" id="cp_2_19">[45]</tspan></text>
</svg>
</body></html>
